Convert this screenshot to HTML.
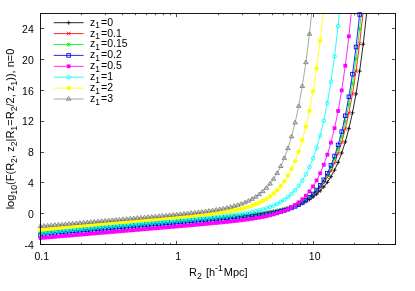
<!DOCTYPE html>
<html><head><meta charset="utf-8"><title>plot</title>
<style>
html,body{margin:0;padding:0;background:#fff;}
#w{filter:blur(0.4px);position:relative;width:415px;height:291px;overflow:hidden;background:#fff;font-family:"Liberation Sans",sans-serif;font-size:10.5px;color:#000;}
.t{position:absolute;white-space:nowrap;line-height:12px;height:12px;}
.t sub{margin-right:var(--g,1.1px);font-size:var(--s,8.4px);vertical-align:baseline;position:relative;top:var(--d,2.8px);line-height:0;}
.t sup{margin-right:var(--g,1.1px);font-size:var(--s,8.4px);vertical-align:baseline;position:relative;top:-5.3px;line-height:0;}
</style></head><body>
<div id="w">
<svg width="415" height="291" viewBox="0 0 415 291" style="position:absolute;left:0;top:0">
<defs><clipPath id="c"><rect x="40.5" y="13.5" width="355.0" height="231.0"/></clipPath></defs>
<g>
<path d="M40.50 232.80L44.09 232.49L47.67 232.19L51.26 231.89L54.84 231.58L58.43 231.28L62.02 230.97L65.60 230.67L69.19 230.37L72.77 230.06L76.36 229.76L79.94 229.46L83.53 229.15L87.12 228.85L90.70 228.55L94.29 228.24L97.87 227.94L101.46 227.63L105.05 227.33L108.63 227.03L112.22 226.72L115.80 226.42L119.39 226.12L122.97 225.81L126.56 225.51L130.15 225.21L133.73 224.90L137.32 224.60L140.90 224.29L144.49 223.99L148.08 223.69L151.66 223.38L155.25 223.08L158.83 222.77L162.42 222.47L166.01 222.16L169.59 221.86L173.18 221.55L176.76 221.25L180.35 220.94L183.93 220.63L187.52 220.33L191.11 220.02L194.69 219.71L198.28 219.40L201.86 219.09L205.45 218.78L209.04 218.46L212.62 218.15L216.21 217.83L219.79 217.50L223.38 217.18L226.96 216.85L230.55 216.51L234.14 216.17L237.72 215.82L241.31 215.46L244.89 215.09L248.48 214.71L252.07 214.31L255.65 213.89L259.24 213.44L262.82 212.97L266.41 212.47L269.99 211.93L273.58 211.34L277.17 210.69L280.75 209.98L284.34 209.18L287.92 208.29L291.51 207.27L295.10 206.12L298.68 204.79L302.27 203.27L305.85 201.50L309.44 199.43L313.03 197.02L316.61 194.19L320.20 190.85L323.78 186.91L327.37 182.25L330.95 176.72L334.54 170.15L338.13 162.32L341.71 153.01L345.30 141.90L348.88 128.63L352.47 112.79L356.06 93.85L359.64 71.20L363.23 44.11L366.81 11.68L370.40 -27.14L373.98 -73.64L377.57 -129.33L381.16 -196.04L384.74 -275.98L388.33 -371.78L391.91 -486.58" stroke="#000000" stroke-width="0.85" fill="none" clip-path="url(#c)"/>
<path d="M38.50 232.80H42.50M40.50 230.80V234.80" stroke="#000000" stroke-width="0.85" fill="none"/>
<path d="M42.09 232.49H46.09M44.09 230.49V234.49" stroke="#000000" stroke-width="0.85" fill="none"/>
<path d="M45.67 232.19H49.67M47.67 230.19V234.19" stroke="#000000" stroke-width="0.85" fill="none"/>
<path d="M49.26 231.89H53.26M51.26 229.89V233.89" stroke="#000000" stroke-width="0.85" fill="none"/>
<path d="M52.84 231.58H56.84M54.84 229.58V233.58" stroke="#000000" stroke-width="0.85" fill="none"/>
<path d="M56.43 231.28H60.43M58.43 229.28V233.28" stroke="#000000" stroke-width="0.85" fill="none"/>
<path d="M60.02 230.97H64.02M62.02 228.97V232.97" stroke="#000000" stroke-width="0.85" fill="none"/>
<path d="M63.60 230.67H67.60M65.60 228.67V232.67" stroke="#000000" stroke-width="0.85" fill="none"/>
<path d="M67.19 230.37H71.19M69.19 228.37V232.37" stroke="#000000" stroke-width="0.85" fill="none"/>
<path d="M70.77 230.06H74.77M72.77 228.06V232.06" stroke="#000000" stroke-width="0.85" fill="none"/>
<path d="M74.36 229.76H78.36M76.36 227.76V231.76" stroke="#000000" stroke-width="0.85" fill="none"/>
<path d="M77.94 229.46H81.94M79.94 227.46V231.46" stroke="#000000" stroke-width="0.85" fill="none"/>
<path d="M81.53 229.15H85.53M83.53 227.15V231.15" stroke="#000000" stroke-width="0.85" fill="none"/>
<path d="M85.12 228.85H89.12M87.12 226.85V230.85" stroke="#000000" stroke-width="0.85" fill="none"/>
<path d="M88.70 228.55H92.70M90.70 226.55V230.55" stroke="#000000" stroke-width="0.85" fill="none"/>
<path d="M92.29 228.24H96.29M94.29 226.24V230.24" stroke="#000000" stroke-width="0.85" fill="none"/>
<path d="M95.87 227.94H99.87M97.87 225.94V229.94" stroke="#000000" stroke-width="0.85" fill="none"/>
<path d="M99.46 227.63H103.46M101.46 225.63V229.63" stroke="#000000" stroke-width="0.85" fill="none"/>
<path d="M103.05 227.33H107.05M105.05 225.33V229.33" stroke="#000000" stroke-width="0.85" fill="none"/>
<path d="M106.63 227.03H110.63M108.63 225.03V229.03" stroke="#000000" stroke-width="0.85" fill="none"/>
<path d="M110.22 226.72H114.22M112.22 224.72V228.72" stroke="#000000" stroke-width="0.85" fill="none"/>
<path d="M113.80 226.42H117.80M115.80 224.42V228.42" stroke="#000000" stroke-width="0.85" fill="none"/>
<path d="M117.39 226.12H121.39M119.39 224.12V228.12" stroke="#000000" stroke-width="0.85" fill="none"/>
<path d="M120.97 225.81H124.97M122.97 223.81V227.81" stroke="#000000" stroke-width="0.85" fill="none"/>
<path d="M124.56 225.51H128.56M126.56 223.51V227.51" stroke="#000000" stroke-width="0.85" fill="none"/>
<path d="M128.15 225.21H132.15M130.15 223.21V227.21" stroke="#000000" stroke-width="0.85" fill="none"/>
<path d="M131.73 224.90H135.73M133.73 222.90V226.90" stroke="#000000" stroke-width="0.85" fill="none"/>
<path d="M135.32 224.60H139.32M137.32 222.60V226.60" stroke="#000000" stroke-width="0.85" fill="none"/>
<path d="M138.90 224.29H142.90M140.90 222.29V226.29" stroke="#000000" stroke-width="0.85" fill="none"/>
<path d="M142.49 223.99H146.49M144.49 221.99V225.99" stroke="#000000" stroke-width="0.85" fill="none"/>
<path d="M146.08 223.69H150.08M148.08 221.69V225.69" stroke="#000000" stroke-width="0.85" fill="none"/>
<path d="M149.66 223.38H153.66M151.66 221.38V225.38" stroke="#000000" stroke-width="0.85" fill="none"/>
<path d="M153.25 223.08H157.25M155.25 221.08V225.08" stroke="#000000" stroke-width="0.85" fill="none"/>
<path d="M156.83 222.77H160.83M158.83 220.77V224.77" stroke="#000000" stroke-width="0.85" fill="none"/>
<path d="M160.42 222.47H164.42M162.42 220.47V224.47" stroke="#000000" stroke-width="0.85" fill="none"/>
<path d="M164.01 222.16H168.01M166.01 220.16V224.16" stroke="#000000" stroke-width="0.85" fill="none"/>
<path d="M167.59 221.86H171.59M169.59 219.86V223.86" stroke="#000000" stroke-width="0.85" fill="none"/>
<path d="M171.18 221.55H175.18M173.18 219.55V223.55" stroke="#000000" stroke-width="0.85" fill="none"/>
<path d="M174.76 221.25H178.76M176.76 219.25V223.25" stroke="#000000" stroke-width="0.85" fill="none"/>
<path d="M178.35 220.94H182.35M180.35 218.94V222.94" stroke="#000000" stroke-width="0.85" fill="none"/>
<path d="M181.93 220.63H185.93M183.93 218.63V222.63" stroke="#000000" stroke-width="0.85" fill="none"/>
<path d="M185.52 220.33H189.52M187.52 218.33V222.33" stroke="#000000" stroke-width="0.85" fill="none"/>
<path d="M189.11 220.02H193.11M191.11 218.02V222.02" stroke="#000000" stroke-width="0.85" fill="none"/>
<path d="M192.69 219.71H196.69M194.69 217.71V221.71" stroke="#000000" stroke-width="0.85" fill="none"/>
<path d="M196.28 219.40H200.28M198.28 217.40V221.40" stroke="#000000" stroke-width="0.85" fill="none"/>
<path d="M199.86 219.09H203.86M201.86 217.09V221.09" stroke="#000000" stroke-width="0.85" fill="none"/>
<path d="M203.45 218.78H207.45M205.45 216.78V220.78" stroke="#000000" stroke-width="0.85" fill="none"/>
<path d="M207.04 218.46H211.04M209.04 216.46V220.46" stroke="#000000" stroke-width="0.85" fill="none"/>
<path d="M210.62 218.15H214.62M212.62 216.15V220.15" stroke="#000000" stroke-width="0.85" fill="none"/>
<path d="M214.21 217.83H218.21M216.21 215.83V219.83" stroke="#000000" stroke-width="0.85" fill="none"/>
<path d="M217.79 217.50H221.79M219.79 215.50V219.50" stroke="#000000" stroke-width="0.85" fill="none"/>
<path d="M221.38 217.18H225.38M223.38 215.18V219.18" stroke="#000000" stroke-width="0.85" fill="none"/>
<path d="M224.96 216.85H228.96M226.96 214.85V218.85" stroke="#000000" stroke-width="0.85" fill="none"/>
<path d="M228.55 216.51H232.55M230.55 214.51V218.51" stroke="#000000" stroke-width="0.85" fill="none"/>
<path d="M232.14 216.17H236.14M234.14 214.17V218.17" stroke="#000000" stroke-width="0.85" fill="none"/>
<path d="M235.72 215.82H239.72M237.72 213.82V217.82" stroke="#000000" stroke-width="0.85" fill="none"/>
<path d="M239.31 215.46H243.31M241.31 213.46V217.46" stroke="#000000" stroke-width="0.85" fill="none"/>
<path d="M242.89 215.09H246.89M244.89 213.09V217.09" stroke="#000000" stroke-width="0.85" fill="none"/>
<path d="M246.48 214.71H250.48M248.48 212.71V216.71" stroke="#000000" stroke-width="0.85" fill="none"/>
<path d="M250.07 214.31H254.07M252.07 212.31V216.31" stroke="#000000" stroke-width="0.85" fill="none"/>
<path d="M253.65 213.89H257.65M255.65 211.89V215.89" stroke="#000000" stroke-width="0.85" fill="none"/>
<path d="M257.24 213.44H261.24M259.24 211.44V215.44" stroke="#000000" stroke-width="0.85" fill="none"/>
<path d="M260.82 212.97H264.82M262.82 210.97V214.97" stroke="#000000" stroke-width="0.85" fill="none"/>
<path d="M264.41 212.47H268.41M266.41 210.47V214.47" stroke="#000000" stroke-width="0.85" fill="none"/>
<path d="M267.99 211.93H271.99M269.99 209.93V213.93" stroke="#000000" stroke-width="0.85" fill="none"/>
<path d="M271.58 211.34H275.58M273.58 209.34V213.34" stroke="#000000" stroke-width="0.85" fill="none"/>
<path d="M275.17 210.69H279.17M277.17 208.69V212.69" stroke="#000000" stroke-width="0.85" fill="none"/>
<path d="M278.75 209.98H282.75M280.75 207.98V211.98" stroke="#000000" stroke-width="0.85" fill="none"/>
<path d="M282.34 209.18H286.34M284.34 207.18V211.18" stroke="#000000" stroke-width="0.85" fill="none"/>
<path d="M285.92 208.29H289.92M287.92 206.29V210.29" stroke="#000000" stroke-width="0.85" fill="none"/>
<path d="M289.51 207.27H293.51M291.51 205.27V209.27" stroke="#000000" stroke-width="0.85" fill="none"/>
<path d="M293.10 206.12H297.10M295.10 204.12V208.12" stroke="#000000" stroke-width="0.85" fill="none"/>
<path d="M296.68 204.79H300.68M298.68 202.79V206.79" stroke="#000000" stroke-width="0.85" fill="none"/>
<path d="M300.27 203.27H304.27M302.27 201.27V205.27" stroke="#000000" stroke-width="0.85" fill="none"/>
<path d="M303.85 201.50H307.85M305.85 199.50V203.50" stroke="#000000" stroke-width="0.85" fill="none"/>
<path d="M307.44 199.43H311.44M309.44 197.43V201.43" stroke="#000000" stroke-width="0.85" fill="none"/>
<path d="M311.03 197.02H315.03M313.03 195.02V199.02" stroke="#000000" stroke-width="0.85" fill="none"/>
<path d="M314.61 194.19H318.61M316.61 192.19V196.19" stroke="#000000" stroke-width="0.85" fill="none"/>
<path d="M318.20 190.85H322.20M320.20 188.85V192.85" stroke="#000000" stroke-width="0.85" fill="none"/>
<path d="M321.78 186.91H325.78M323.78 184.91V188.91" stroke="#000000" stroke-width="0.85" fill="none"/>
<path d="M325.37 182.25H329.37M327.37 180.25V184.25" stroke="#000000" stroke-width="0.85" fill="none"/>
<path d="M328.95 176.72H332.95M330.95 174.72V178.72" stroke="#000000" stroke-width="0.85" fill="none"/>
<path d="M332.54 170.15H336.54M334.54 168.15V172.15" stroke="#000000" stroke-width="0.85" fill="none"/>
<path d="M336.13 162.32H340.13M338.13 160.32V164.32" stroke="#000000" stroke-width="0.85" fill="none"/>
<path d="M339.71 153.01H343.71M341.71 151.01V155.01" stroke="#000000" stroke-width="0.85" fill="none"/>
<path d="M343.30 141.90H347.30M345.30 139.90V143.90" stroke="#000000" stroke-width="0.85" fill="none"/>
<path d="M346.88 128.63H350.88M348.88 126.63V130.63" stroke="#000000" stroke-width="0.85" fill="none"/>
<path d="M350.47 112.79H354.47M352.47 110.79V114.79" stroke="#000000" stroke-width="0.85" fill="none"/>
<path d="M354.06 93.85H358.06M356.06 91.85V95.85" stroke="#000000" stroke-width="0.85" fill="none"/>
<path d="M357.64 71.20H361.64M359.64 69.20V73.20" stroke="#000000" stroke-width="0.85" fill="none"/>
<path d="M361.23 44.11H365.23M363.23 42.11V46.11" stroke="#000000" stroke-width="0.85" fill="none"/>
<path d="M40.50 233.49L44.09 233.19L47.67 232.88L51.26 232.58L54.84 232.27L58.43 231.97L62.02 231.67L65.60 231.36L69.19 231.06L72.77 230.76L76.36 230.45L79.94 230.15L83.53 229.85L87.12 229.54L90.70 229.24L94.29 228.94L97.87 228.63L101.46 228.33L105.05 228.02L108.63 227.72L112.22 227.42L115.80 227.11L119.39 226.81L122.97 226.51L126.56 226.20L130.15 225.90L133.73 225.59L137.32 225.29L140.90 224.99L144.49 224.68L148.08 224.38L151.66 224.07L155.25 223.77L158.83 223.46L162.42 223.16L166.01 222.85L169.59 222.55L173.18 222.24L176.76 221.94L180.35 221.63L183.93 221.32L187.52 221.02L191.11 220.71L194.69 220.40L198.28 220.09L201.86 219.77L205.45 219.46L209.04 219.14L212.62 218.82L216.21 218.50L219.79 218.17L223.38 217.84L226.96 217.51L230.55 217.16L234.14 216.81L237.72 216.45L241.31 216.08L244.89 215.70L248.48 215.30L252.07 214.88L255.65 214.43L259.24 213.96L262.82 213.46L266.41 212.91L269.99 212.32L273.58 211.67L277.17 210.95L280.75 210.15L284.34 209.25L287.92 208.23L291.51 207.07L295.10 205.73L298.68 204.20L302.27 202.41L305.85 200.33L309.44 197.90L313.03 195.05L316.61 191.68L320.20 187.71L323.78 183.01L327.37 177.43L330.95 170.80L334.54 162.91L338.13 153.51L341.71 142.30L345.30 128.92L348.88 112.93L352.47 93.83L356.06 70.98L359.64 43.64L363.23 10.92L366.81 -28.26L370.40 -75.17L373.98 -131.37L377.57 -198.69L381.16 -279.35L384.74 -376.01L388.33 -491.86" stroke="#ff0000" stroke-width="0.85" fill="none" clip-path="url(#c)"/>
<path d="M38.70 231.69L42.30 235.29M38.70 235.29L42.30 231.69" stroke="#ff0000" stroke-width="0.85" fill="none"/>
<path d="M42.29 231.39L45.89 234.99M42.29 234.99L45.89 231.39" stroke="#ff0000" stroke-width="0.85" fill="none"/>
<path d="M45.87 231.08L49.47 234.68M45.87 234.68L49.47 231.08" stroke="#ff0000" stroke-width="0.85" fill="none"/>
<path d="M49.46 230.78L53.06 234.38M49.46 234.38L53.06 230.78" stroke="#ff0000" stroke-width="0.85" fill="none"/>
<path d="M53.04 230.47L56.64 234.07M53.04 234.07L56.64 230.47" stroke="#ff0000" stroke-width="0.85" fill="none"/>
<path d="M56.63 230.17L60.23 233.77M56.63 233.77L60.23 230.17" stroke="#ff0000" stroke-width="0.85" fill="none"/>
<path d="M60.22 229.87L63.82 233.47M60.22 233.47L63.82 229.87" stroke="#ff0000" stroke-width="0.85" fill="none"/>
<path d="M63.80 229.56L67.40 233.16M63.80 233.16L67.40 229.56" stroke="#ff0000" stroke-width="0.85" fill="none"/>
<path d="M67.39 229.26L70.99 232.86M67.39 232.86L70.99 229.26" stroke="#ff0000" stroke-width="0.85" fill="none"/>
<path d="M70.97 228.96L74.57 232.56M70.97 232.56L74.57 228.96" stroke="#ff0000" stroke-width="0.85" fill="none"/>
<path d="M74.56 228.65L78.16 232.25M74.56 232.25L78.16 228.65" stroke="#ff0000" stroke-width="0.85" fill="none"/>
<path d="M78.14 228.35L81.74 231.95M78.14 231.95L81.74 228.35" stroke="#ff0000" stroke-width="0.85" fill="none"/>
<path d="M81.73 228.05L85.33 231.65M81.73 231.65L85.33 228.05" stroke="#ff0000" stroke-width="0.85" fill="none"/>
<path d="M85.32 227.74L88.92 231.34M85.32 231.34L88.92 227.74" stroke="#ff0000" stroke-width="0.85" fill="none"/>
<path d="M88.90 227.44L92.50 231.04M88.90 231.04L92.50 227.44" stroke="#ff0000" stroke-width="0.85" fill="none"/>
<path d="M92.49 227.14L96.09 230.74M92.49 230.74L96.09 227.14" stroke="#ff0000" stroke-width="0.85" fill="none"/>
<path d="M96.07 226.83L99.67 230.43M96.07 230.43L99.67 226.83" stroke="#ff0000" stroke-width="0.85" fill="none"/>
<path d="M99.66 226.53L103.26 230.13M99.66 230.13L103.26 226.53" stroke="#ff0000" stroke-width="0.85" fill="none"/>
<path d="M103.25 226.22L106.85 229.82M103.25 229.82L106.85 226.22" stroke="#ff0000" stroke-width="0.85" fill="none"/>
<path d="M106.83 225.92L110.43 229.52M106.83 229.52L110.43 225.92" stroke="#ff0000" stroke-width="0.85" fill="none"/>
<path d="M110.42 225.62L114.02 229.22M110.42 229.22L114.02 225.62" stroke="#ff0000" stroke-width="0.85" fill="none"/>
<path d="M114.00 225.31L117.60 228.91M114.00 228.91L117.60 225.31" stroke="#ff0000" stroke-width="0.85" fill="none"/>
<path d="M117.59 225.01L121.19 228.61M117.59 228.61L121.19 225.01" stroke="#ff0000" stroke-width="0.85" fill="none"/>
<path d="M121.17 224.71L124.77 228.31M121.17 228.31L124.77 224.71" stroke="#ff0000" stroke-width="0.85" fill="none"/>
<path d="M124.76 224.40L128.36 228.00M124.76 228.00L128.36 224.40" stroke="#ff0000" stroke-width="0.85" fill="none"/>
<path d="M128.35 224.10L131.95 227.70M128.35 227.70L131.95 224.10" stroke="#ff0000" stroke-width="0.85" fill="none"/>
<path d="M131.93 223.79L135.53 227.39M131.93 227.39L135.53 223.79" stroke="#ff0000" stroke-width="0.85" fill="none"/>
<path d="M135.52 223.49L139.12 227.09M135.52 227.09L139.12 223.49" stroke="#ff0000" stroke-width="0.85" fill="none"/>
<path d="M139.10 223.19L142.70 226.79M139.10 226.79L142.70 223.19" stroke="#ff0000" stroke-width="0.85" fill="none"/>
<path d="M142.69 222.88L146.29 226.48M142.69 226.48L146.29 222.88" stroke="#ff0000" stroke-width="0.85" fill="none"/>
<path d="M146.28 222.58L149.88 226.18M146.28 226.18L149.88 222.58" stroke="#ff0000" stroke-width="0.85" fill="none"/>
<path d="M149.86 222.27L153.46 225.87M149.86 225.87L153.46 222.27" stroke="#ff0000" stroke-width="0.85" fill="none"/>
<path d="M153.45 221.97L157.05 225.57M153.45 225.57L157.05 221.97" stroke="#ff0000" stroke-width="0.85" fill="none"/>
<path d="M157.03 221.66L160.63 225.26M157.03 225.26L160.63 221.66" stroke="#ff0000" stroke-width="0.85" fill="none"/>
<path d="M160.62 221.36L164.22 224.96M160.62 224.96L164.22 221.36" stroke="#ff0000" stroke-width="0.85" fill="none"/>
<path d="M164.21 221.05L167.81 224.65M164.21 224.65L167.81 221.05" stroke="#ff0000" stroke-width="0.85" fill="none"/>
<path d="M167.79 220.75L171.39 224.35M167.79 224.35L171.39 220.75" stroke="#ff0000" stroke-width="0.85" fill="none"/>
<path d="M171.38 220.44L174.98 224.04M171.38 224.04L174.98 220.44" stroke="#ff0000" stroke-width="0.85" fill="none"/>
<path d="M174.96 220.14L178.56 223.74M174.96 223.74L178.56 220.14" stroke="#ff0000" stroke-width="0.85" fill="none"/>
<path d="M178.55 219.83L182.15 223.43M178.55 223.43L182.15 219.83" stroke="#ff0000" stroke-width="0.85" fill="none"/>
<path d="M182.13 219.52L185.73 223.12M182.13 223.12L185.73 219.52" stroke="#ff0000" stroke-width="0.85" fill="none"/>
<path d="M185.72 219.22L189.32 222.82M185.72 222.82L189.32 219.22" stroke="#ff0000" stroke-width="0.85" fill="none"/>
<path d="M189.31 218.91L192.91 222.51M189.31 222.51L192.91 218.91" stroke="#ff0000" stroke-width="0.85" fill="none"/>
<path d="M192.89 218.60L196.49 222.20M192.89 222.20L196.49 218.60" stroke="#ff0000" stroke-width="0.85" fill="none"/>
<path d="M196.48 218.29L200.08 221.89M196.48 221.89L200.08 218.29" stroke="#ff0000" stroke-width="0.85" fill="none"/>
<path d="M200.06 217.97L203.66 221.57M200.06 221.57L203.66 217.97" stroke="#ff0000" stroke-width="0.85" fill="none"/>
<path d="M203.65 217.66L207.25 221.26M203.65 221.26L207.25 217.66" stroke="#ff0000" stroke-width="0.85" fill="none"/>
<path d="M207.24 217.34L210.84 220.94M207.24 220.94L210.84 217.34" stroke="#ff0000" stroke-width="0.85" fill="none"/>
<path d="M210.82 217.02L214.42 220.62M210.82 220.62L214.42 217.02" stroke="#ff0000" stroke-width="0.85" fill="none"/>
<path d="M214.41 216.70L218.01 220.30M214.41 220.30L218.01 216.70" stroke="#ff0000" stroke-width="0.85" fill="none"/>
<path d="M217.99 216.37L221.59 219.97M217.99 219.97L221.59 216.37" stroke="#ff0000" stroke-width="0.85" fill="none"/>
<path d="M221.58 216.04L225.18 219.64M221.58 219.64L225.18 216.04" stroke="#ff0000" stroke-width="0.85" fill="none"/>
<path d="M225.16 215.71L228.76 219.31M225.16 219.31L228.76 215.71" stroke="#ff0000" stroke-width="0.85" fill="none"/>
<path d="M228.75 215.36L232.35 218.96M228.75 218.96L232.35 215.36" stroke="#ff0000" stroke-width="0.85" fill="none"/>
<path d="M232.34 215.01L235.94 218.61M232.34 218.61L235.94 215.01" stroke="#ff0000" stroke-width="0.85" fill="none"/>
<path d="M235.92 214.65L239.52 218.25M235.92 218.25L239.52 214.65" stroke="#ff0000" stroke-width="0.85" fill="none"/>
<path d="M239.51 214.28L243.11 217.88M239.51 217.88L243.11 214.28" stroke="#ff0000" stroke-width="0.85" fill="none"/>
<path d="M243.09 213.90L246.69 217.50M243.09 217.50L246.69 213.90" stroke="#ff0000" stroke-width="0.85" fill="none"/>
<path d="M246.68 213.50L250.28 217.10M246.68 217.10L250.28 213.50" stroke="#ff0000" stroke-width="0.85" fill="none"/>
<path d="M250.27 213.08L253.87 216.68M250.27 216.68L253.87 213.08" stroke="#ff0000" stroke-width="0.85" fill="none"/>
<path d="M253.85 212.63L257.45 216.23M253.85 216.23L257.45 212.63" stroke="#ff0000" stroke-width="0.85" fill="none"/>
<path d="M257.44 212.16L261.04 215.76M257.44 215.76L261.04 212.16" stroke="#ff0000" stroke-width="0.85" fill="none"/>
<path d="M261.02 211.66L264.62 215.26M261.02 215.26L264.62 211.66" stroke="#ff0000" stroke-width="0.85" fill="none"/>
<path d="M264.61 211.11L268.21 214.71M264.61 214.71L268.21 211.11" stroke="#ff0000" stroke-width="0.85" fill="none"/>
<path d="M268.19 210.52L271.79 214.12M268.19 214.12L271.79 210.52" stroke="#ff0000" stroke-width="0.85" fill="none"/>
<path d="M271.78 209.87L275.38 213.47M271.78 213.47L275.38 209.87" stroke="#ff0000" stroke-width="0.85" fill="none"/>
<path d="M275.37 209.15L278.97 212.75M275.37 212.75L278.97 209.15" stroke="#ff0000" stroke-width="0.85" fill="none"/>
<path d="M278.95 208.35L282.55 211.95M278.95 211.95L282.55 208.35" stroke="#ff0000" stroke-width="0.85" fill="none"/>
<path d="M282.54 207.45L286.14 211.05M282.54 211.05L286.14 207.45" stroke="#ff0000" stroke-width="0.85" fill="none"/>
<path d="M286.12 206.43L289.72 210.03M286.12 210.03L289.72 206.43" stroke="#ff0000" stroke-width="0.85" fill="none"/>
<path d="M289.71 205.27L293.31 208.87M289.71 208.87L293.31 205.27" stroke="#ff0000" stroke-width="0.85" fill="none"/>
<path d="M293.30 203.93L296.90 207.53M293.30 207.53L296.90 203.93" stroke="#ff0000" stroke-width="0.85" fill="none"/>
<path d="M296.88 202.40L300.48 206.00M296.88 206.00L300.48 202.40" stroke="#ff0000" stroke-width="0.85" fill="none"/>
<path d="M300.47 200.61L304.07 204.21M300.47 204.21L304.07 200.61" stroke="#ff0000" stroke-width="0.85" fill="none"/>
<path d="M304.05 198.53L307.65 202.13M304.05 202.13L307.65 198.53" stroke="#ff0000" stroke-width="0.85" fill="none"/>
<path d="M307.64 196.10L311.24 199.70M307.64 199.70L311.24 196.10" stroke="#ff0000" stroke-width="0.85" fill="none"/>
<path d="M311.23 193.25L314.83 196.85M311.23 196.85L314.83 193.25" stroke="#ff0000" stroke-width="0.85" fill="none"/>
<path d="M314.81 189.88L318.41 193.48M314.81 193.48L318.41 189.88" stroke="#ff0000" stroke-width="0.85" fill="none"/>
<path d="M318.40 185.91L322.00 189.51M318.40 189.51L322.00 185.91" stroke="#ff0000" stroke-width="0.85" fill="none"/>
<path d="M321.98 181.21L325.58 184.81M321.98 184.81L325.58 181.21" stroke="#ff0000" stroke-width="0.85" fill="none"/>
<path d="M325.57 175.63L329.17 179.23M325.57 179.23L329.17 175.63" stroke="#ff0000" stroke-width="0.85" fill="none"/>
<path d="M329.15 169.00L332.75 172.60M329.15 172.60L332.75 169.00" stroke="#ff0000" stroke-width="0.85" fill="none"/>
<path d="M332.74 161.11L336.34 164.71M332.74 164.71L336.34 161.11" stroke="#ff0000" stroke-width="0.85" fill="none"/>
<path d="M336.33 151.71L339.93 155.31M336.33 155.31L339.93 151.71" stroke="#ff0000" stroke-width="0.85" fill="none"/>
<path d="M339.91 140.50L343.51 144.10M339.91 144.10L343.51 140.50" stroke="#ff0000" stroke-width="0.85" fill="none"/>
<path d="M343.50 127.12L347.10 130.72M343.50 130.72L347.10 127.12" stroke="#ff0000" stroke-width="0.85" fill="none"/>
<path d="M347.08 111.13L350.68 114.73M347.08 114.73L350.68 111.13" stroke="#ff0000" stroke-width="0.85" fill="none"/>
<path d="M350.67 92.03L354.27 95.63M350.67 95.63L354.27 92.03" stroke="#ff0000" stroke-width="0.85" fill="none"/>
<path d="M354.26 69.18L357.86 72.78M354.26 72.78L357.86 69.18" stroke="#ff0000" stroke-width="0.85" fill="none"/>
<path d="M357.84 41.84L361.44 45.44M357.84 45.44L361.44 41.84" stroke="#ff0000" stroke-width="0.85" fill="none"/>
<path d="M40.50 233.80L44.09 233.49L47.67 233.19L51.26 232.89L54.84 232.58L58.43 232.28L62.02 231.98L65.60 231.67L69.19 231.37L72.77 231.06L76.36 230.76L79.94 230.46L83.53 230.15L87.12 229.85L90.70 229.55L94.29 229.24L97.87 228.94L101.46 228.64L105.05 228.33L108.63 228.03L112.22 227.72L115.80 227.42L119.39 227.12L122.97 226.81L126.56 226.51L130.15 226.21L133.73 225.90L137.32 225.60L140.90 225.29L144.49 224.99L148.08 224.69L151.66 224.38L155.25 224.08L158.83 223.77L162.42 223.47L166.01 223.16L169.59 222.86L173.18 222.55L176.76 222.24L180.35 221.94L183.93 221.63L187.52 221.32L191.11 221.01L194.69 220.70L198.28 220.39L201.86 220.08L205.45 219.76L209.04 219.44L212.62 219.12L216.21 218.80L219.79 218.47L223.38 218.14L226.96 217.80L230.55 217.45L234.14 217.09L237.72 216.73L241.31 216.35L244.89 215.96L248.48 215.55L252.07 215.12L255.65 214.66L259.24 214.18L262.82 213.65L266.41 213.09L269.99 212.47L273.58 211.78L277.17 211.03L280.75 210.18L284.34 209.22L287.92 208.14L291.51 206.89L295.10 205.47L298.68 203.81L302.27 201.89L305.85 199.65L309.44 197.02L313.03 193.93L316.61 190.28L320.20 185.96L323.78 180.85L327.37 174.78L330.95 167.56L334.54 158.97L338.13 148.72L341.71 136.50L345.30 121.90L348.88 104.46L352.47 83.60L356.06 58.66L359.64 28.81L363.23 -6.93L366.81 -49.72L370.40 -100.97L373.98 -162.36L377.57 -235.91L381.16 -324.04L384.74 -429.66" stroke="#00ff00" stroke-width="0.85" fill="none" clip-path="url(#c)"/>
<path d="M38.50 233.80H42.50M40.50 231.80V235.80M38.70 232.00L42.30 235.60M38.70 235.60L42.30 232.00" stroke="#00ff00" stroke-width="0.85" fill="none"/>
<path d="M42.09 233.49H46.09M44.09 231.49V235.49M42.29 231.69L45.89 235.29M42.29 235.29L45.89 231.69" stroke="#00ff00" stroke-width="0.85" fill="none"/>
<path d="M45.67 233.19H49.67M47.67 231.19V235.19M45.87 231.39L49.47 234.99M45.87 234.99L49.47 231.39" stroke="#00ff00" stroke-width="0.85" fill="none"/>
<path d="M49.26 232.89H53.26M51.26 230.89V234.89M49.46 231.09L53.06 234.69M49.46 234.69L53.06 231.09" stroke="#00ff00" stroke-width="0.85" fill="none"/>
<path d="M52.84 232.58H56.84M54.84 230.58V234.58M53.04 230.78L56.64 234.38M53.04 234.38L56.64 230.78" stroke="#00ff00" stroke-width="0.85" fill="none"/>
<path d="M56.43 232.28H60.43M58.43 230.28V234.28M56.63 230.48L60.23 234.08M56.63 234.08L60.23 230.48" stroke="#00ff00" stroke-width="0.85" fill="none"/>
<path d="M60.02 231.98H64.02M62.02 229.98V233.98M60.22 230.18L63.82 233.78M60.22 233.78L63.82 230.18" stroke="#00ff00" stroke-width="0.85" fill="none"/>
<path d="M63.60 231.67H67.60M65.60 229.67V233.67M63.80 229.87L67.40 233.47M63.80 233.47L67.40 229.87" stroke="#00ff00" stroke-width="0.85" fill="none"/>
<path d="M67.19 231.37H71.19M69.19 229.37V233.37M67.39 229.57L70.99 233.17M67.39 233.17L70.99 229.57" stroke="#00ff00" stroke-width="0.85" fill="none"/>
<path d="M70.77 231.06H74.77M72.77 229.06V233.06M70.97 229.26L74.57 232.86M70.97 232.86L74.57 229.26" stroke="#00ff00" stroke-width="0.85" fill="none"/>
<path d="M74.36 230.76H78.36M76.36 228.76V232.76M74.56 228.96L78.16 232.56M74.56 232.56L78.16 228.96" stroke="#00ff00" stroke-width="0.85" fill="none"/>
<path d="M77.94 230.46H81.94M79.94 228.46V232.46M78.14 228.66L81.74 232.26M78.14 232.26L81.74 228.66" stroke="#00ff00" stroke-width="0.85" fill="none"/>
<path d="M81.53 230.15H85.53M83.53 228.15V232.15M81.73 228.35L85.33 231.95M81.73 231.95L85.33 228.35" stroke="#00ff00" stroke-width="0.85" fill="none"/>
<path d="M85.12 229.85H89.12M87.12 227.85V231.85M85.32 228.05L88.92 231.65M85.32 231.65L88.92 228.05" stroke="#00ff00" stroke-width="0.85" fill="none"/>
<path d="M88.70 229.55H92.70M90.70 227.55V231.55M88.90 227.75L92.50 231.35M88.90 231.35L92.50 227.75" stroke="#00ff00" stroke-width="0.85" fill="none"/>
<path d="M92.29 229.24H96.29M94.29 227.24V231.24M92.49 227.44L96.09 231.04M92.49 231.04L96.09 227.44" stroke="#00ff00" stroke-width="0.85" fill="none"/>
<path d="M95.87 228.94H99.87M97.87 226.94V230.94M96.07 227.14L99.67 230.74M96.07 230.74L99.67 227.14" stroke="#00ff00" stroke-width="0.85" fill="none"/>
<path d="M99.46 228.64H103.46M101.46 226.64V230.64M99.66 226.84L103.26 230.44M99.66 230.44L103.26 226.84" stroke="#00ff00" stroke-width="0.85" fill="none"/>
<path d="M103.05 228.33H107.05M105.05 226.33V230.33M103.25 226.53L106.85 230.13M103.25 230.13L106.85 226.53" stroke="#00ff00" stroke-width="0.85" fill="none"/>
<path d="M106.63 228.03H110.63M108.63 226.03V230.03M106.83 226.23L110.43 229.83M106.83 229.83L110.43 226.23" stroke="#00ff00" stroke-width="0.85" fill="none"/>
<path d="M110.22 227.72H114.22M112.22 225.72V229.72M110.42 225.92L114.02 229.52M110.42 229.52L114.02 225.92" stroke="#00ff00" stroke-width="0.85" fill="none"/>
<path d="M113.80 227.42H117.80M115.80 225.42V229.42M114.00 225.62L117.60 229.22M114.00 229.22L117.60 225.62" stroke="#00ff00" stroke-width="0.85" fill="none"/>
<path d="M117.39 227.12H121.39M119.39 225.12V229.12M117.59 225.32L121.19 228.92M117.59 228.92L121.19 225.32" stroke="#00ff00" stroke-width="0.85" fill="none"/>
<path d="M120.97 226.81H124.97M122.97 224.81V228.81M121.17 225.01L124.77 228.61M121.17 228.61L124.77 225.01" stroke="#00ff00" stroke-width="0.85" fill="none"/>
<path d="M124.56 226.51H128.56M126.56 224.51V228.51M124.76 224.71L128.36 228.31M124.76 228.31L128.36 224.71" stroke="#00ff00" stroke-width="0.85" fill="none"/>
<path d="M128.15 226.21H132.15M130.15 224.21V228.21M128.35 224.41L131.95 228.01M128.35 228.01L131.95 224.41" stroke="#00ff00" stroke-width="0.85" fill="none"/>
<path d="M131.73 225.90H135.73M133.73 223.90V227.90M131.93 224.10L135.53 227.70M131.93 227.70L135.53 224.10" stroke="#00ff00" stroke-width="0.85" fill="none"/>
<path d="M135.32 225.60H139.32M137.32 223.60V227.60M135.52 223.80L139.12 227.40M135.52 227.40L139.12 223.80" stroke="#00ff00" stroke-width="0.85" fill="none"/>
<path d="M138.90 225.29H142.90M140.90 223.29V227.29M139.10 223.49L142.70 227.09M139.10 227.09L142.70 223.49" stroke="#00ff00" stroke-width="0.85" fill="none"/>
<path d="M142.49 224.99H146.49M144.49 222.99V226.99M142.69 223.19L146.29 226.79M142.69 226.79L146.29 223.19" stroke="#00ff00" stroke-width="0.85" fill="none"/>
<path d="M146.08 224.69H150.08M148.08 222.69V226.69M146.28 222.89L149.88 226.49M146.28 226.49L149.88 222.89" stroke="#00ff00" stroke-width="0.85" fill="none"/>
<path d="M149.66 224.38H153.66M151.66 222.38V226.38M149.86 222.58L153.46 226.18M149.86 226.18L153.46 222.58" stroke="#00ff00" stroke-width="0.85" fill="none"/>
<path d="M153.25 224.08H157.25M155.25 222.08V226.08M153.45 222.28L157.05 225.88M153.45 225.88L157.05 222.28" stroke="#00ff00" stroke-width="0.85" fill="none"/>
<path d="M156.83 223.77H160.83M158.83 221.77V225.77M157.03 221.97L160.63 225.57M157.03 225.57L160.63 221.97" stroke="#00ff00" stroke-width="0.85" fill="none"/>
<path d="M160.42 223.47H164.42M162.42 221.47V225.47M160.62 221.67L164.22 225.27M160.62 225.27L164.22 221.67" stroke="#00ff00" stroke-width="0.85" fill="none"/>
<path d="M164.01 223.16H168.01M166.01 221.16V225.16M164.21 221.36L167.81 224.96M164.21 224.96L167.81 221.36" stroke="#00ff00" stroke-width="0.85" fill="none"/>
<path d="M167.59 222.86H171.59M169.59 220.86V224.86M167.79 221.06L171.39 224.66M167.79 224.66L171.39 221.06" stroke="#00ff00" stroke-width="0.85" fill="none"/>
<path d="M171.18 222.55H175.18M173.18 220.55V224.55M171.38 220.75L174.98 224.35M171.38 224.35L174.98 220.75" stroke="#00ff00" stroke-width="0.85" fill="none"/>
<path d="M174.76 222.24H178.76M176.76 220.24V224.24M174.96 220.44L178.56 224.04M174.96 224.04L178.56 220.44" stroke="#00ff00" stroke-width="0.85" fill="none"/>
<path d="M178.35 221.94H182.35M180.35 219.94V223.94M178.55 220.14L182.15 223.74M178.55 223.74L182.15 220.14" stroke="#00ff00" stroke-width="0.85" fill="none"/>
<path d="M181.93 221.63H185.93M183.93 219.63V223.63M182.13 219.83L185.73 223.43M182.13 223.43L185.73 219.83" stroke="#00ff00" stroke-width="0.85" fill="none"/>
<path d="M185.52 221.32H189.52M187.52 219.32V223.32M185.72 219.52L189.32 223.12M185.72 223.12L189.32 219.52" stroke="#00ff00" stroke-width="0.85" fill="none"/>
<path d="M189.11 221.01H193.11M191.11 219.01V223.01M189.31 219.21L192.91 222.81M189.31 222.81L192.91 219.21" stroke="#00ff00" stroke-width="0.85" fill="none"/>
<path d="M192.69 220.70H196.69M194.69 218.70V222.70M192.89 218.90L196.49 222.50M192.89 222.50L196.49 218.90" stroke="#00ff00" stroke-width="0.85" fill="none"/>
<path d="M196.28 220.39H200.28M198.28 218.39V222.39M196.48 218.59L200.08 222.19M196.48 222.19L200.08 218.59" stroke="#00ff00" stroke-width="0.85" fill="none"/>
<path d="M199.86 220.08H203.86M201.86 218.08V222.08M200.06 218.28L203.66 221.88M200.06 221.88L203.66 218.28" stroke="#00ff00" stroke-width="0.85" fill="none"/>
<path d="M203.45 219.76H207.45M205.45 217.76V221.76M203.65 217.96L207.25 221.56M203.65 221.56L207.25 217.96" stroke="#00ff00" stroke-width="0.85" fill="none"/>
<path d="M207.04 219.44H211.04M209.04 217.44V221.44M207.24 217.64L210.84 221.24M207.24 221.24L210.84 217.64" stroke="#00ff00" stroke-width="0.85" fill="none"/>
<path d="M210.62 219.12H214.62M212.62 217.12V221.12M210.82 217.32L214.42 220.92M210.82 220.92L214.42 217.32" stroke="#00ff00" stroke-width="0.85" fill="none"/>
<path d="M214.21 218.80H218.21M216.21 216.80V220.80M214.41 217.00L218.01 220.60M214.41 220.60L218.01 217.00" stroke="#00ff00" stroke-width="0.85" fill="none"/>
<path d="M217.79 218.47H221.79M219.79 216.47V220.47M217.99 216.67L221.59 220.27M217.99 220.27L221.59 216.67" stroke="#00ff00" stroke-width="0.85" fill="none"/>
<path d="M221.38 218.14H225.38M223.38 216.14V220.14M221.58 216.34L225.18 219.94M221.58 219.94L225.18 216.34" stroke="#00ff00" stroke-width="0.85" fill="none"/>
<path d="M224.96 217.80H228.96M226.96 215.80V219.80M225.16 216.00L228.76 219.60M225.16 219.60L228.76 216.00" stroke="#00ff00" stroke-width="0.85" fill="none"/>
<path d="M228.55 217.45H232.55M230.55 215.45V219.45M228.75 215.65L232.35 219.25M228.75 219.25L232.35 215.65" stroke="#00ff00" stroke-width="0.85" fill="none"/>
<path d="M232.14 217.09H236.14M234.14 215.09V219.09M232.34 215.29L235.94 218.89M232.34 218.89L235.94 215.29" stroke="#00ff00" stroke-width="0.85" fill="none"/>
<path d="M235.72 216.73H239.72M237.72 214.73V218.73M235.92 214.93L239.52 218.53M235.92 218.53L239.52 214.93" stroke="#00ff00" stroke-width="0.85" fill="none"/>
<path d="M239.31 216.35H243.31M241.31 214.35V218.35M239.51 214.55L243.11 218.15M239.51 218.15L243.11 214.55" stroke="#00ff00" stroke-width="0.85" fill="none"/>
<path d="M242.89 215.96H246.89M244.89 213.96V217.96M243.09 214.16L246.69 217.76M243.09 217.76L246.69 214.16" stroke="#00ff00" stroke-width="0.85" fill="none"/>
<path d="M246.48 215.55H250.48M248.48 213.55V217.55M246.68 213.75L250.28 217.35M246.68 217.35L250.28 213.75" stroke="#00ff00" stroke-width="0.85" fill="none"/>
<path d="M250.07 215.12H254.07M252.07 213.12V217.12M250.27 213.32L253.87 216.92M250.27 216.92L253.87 213.32" stroke="#00ff00" stroke-width="0.85" fill="none"/>
<path d="M253.65 214.66H257.65M255.65 212.66V216.66M253.85 212.86L257.45 216.46M253.85 216.46L257.45 212.86" stroke="#00ff00" stroke-width="0.85" fill="none"/>
<path d="M257.24 214.18H261.24M259.24 212.18V216.18M257.44 212.38L261.04 215.98M257.44 215.98L261.04 212.38" stroke="#00ff00" stroke-width="0.85" fill="none"/>
<path d="M260.82 213.65H264.82M262.82 211.65V215.65M261.02 211.85L264.62 215.45M261.02 215.45L264.62 211.85" stroke="#00ff00" stroke-width="0.85" fill="none"/>
<path d="M264.41 213.09H268.41M266.41 211.09V215.09M264.61 211.29L268.21 214.89M264.61 214.89L268.21 211.29" stroke="#00ff00" stroke-width="0.85" fill="none"/>
<path d="M267.99 212.47H271.99M269.99 210.47V214.47M268.19 210.67L271.79 214.27M268.19 214.27L271.79 210.67" stroke="#00ff00" stroke-width="0.85" fill="none"/>
<path d="M271.58 211.78H275.58M273.58 209.78V213.78M271.78 209.98L275.38 213.58M271.78 213.58L275.38 209.98" stroke="#00ff00" stroke-width="0.85" fill="none"/>
<path d="M275.17 211.03H279.17M277.17 209.03V213.03M275.37 209.23L278.97 212.83M275.37 212.83L278.97 209.23" stroke="#00ff00" stroke-width="0.85" fill="none"/>
<path d="M278.75 210.18H282.75M280.75 208.18V212.18M278.95 208.38L282.55 211.98M278.95 211.98L282.55 208.38" stroke="#00ff00" stroke-width="0.85" fill="none"/>
<path d="M282.34 209.22H286.34M284.34 207.22V211.22M282.54 207.42L286.14 211.02M282.54 211.02L286.14 207.42" stroke="#00ff00" stroke-width="0.85" fill="none"/>
<path d="M285.92 208.14H289.92M287.92 206.14V210.14M286.12 206.34L289.72 209.94M286.12 209.94L289.72 206.34" stroke="#00ff00" stroke-width="0.85" fill="none"/>
<path d="M289.51 206.89H293.51M291.51 204.89V208.89M289.71 205.09L293.31 208.69M289.71 208.69L293.31 205.09" stroke="#00ff00" stroke-width="0.85" fill="none"/>
<path d="M293.10 205.47H297.10M295.10 203.47V207.47M293.30 203.67L296.90 207.27M293.30 207.27L296.90 203.67" stroke="#00ff00" stroke-width="0.85" fill="none"/>
<path d="M296.68 203.81H300.68M298.68 201.81V205.81M296.88 202.01L300.48 205.61M296.88 205.61L300.48 202.01" stroke="#00ff00" stroke-width="0.85" fill="none"/>
<path d="M300.27 201.89H304.27M302.27 199.89V203.89M300.47 200.09L304.07 203.69M300.47 203.69L304.07 200.09" stroke="#00ff00" stroke-width="0.85" fill="none"/>
<path d="M303.85 199.65H307.85M305.85 197.65V201.65M304.05 197.85L307.65 201.45M304.05 201.45L307.65 197.85" stroke="#00ff00" stroke-width="0.85" fill="none"/>
<path d="M307.44 197.02H311.44M309.44 195.02V199.02M307.64 195.22L311.24 198.82M307.64 198.82L311.24 195.22" stroke="#00ff00" stroke-width="0.85" fill="none"/>
<path d="M311.03 193.93H315.03M313.03 191.93V195.93M311.23 192.13L314.83 195.73M311.23 195.73L314.83 192.13" stroke="#00ff00" stroke-width="0.85" fill="none"/>
<path d="M314.61 190.28H318.61M316.61 188.28V192.28M314.81 188.48L318.41 192.08M314.81 192.08L318.41 188.48" stroke="#00ff00" stroke-width="0.85" fill="none"/>
<path d="M318.20 185.96H322.20M320.20 183.96V187.96M318.40 184.16L322.00 187.76M318.40 187.76L322.00 184.16" stroke="#00ff00" stroke-width="0.85" fill="none"/>
<path d="M321.78 180.85H325.78M323.78 178.85V182.85M321.98 179.05L325.58 182.65M321.98 182.65L325.58 179.05" stroke="#00ff00" stroke-width="0.85" fill="none"/>
<path d="M325.37 174.78H329.37M327.37 172.78V176.78M325.57 172.98L329.17 176.58M325.57 176.58L329.17 172.98" stroke="#00ff00" stroke-width="0.85" fill="none"/>
<path d="M328.95 167.56H332.95M330.95 165.56V169.56M329.15 165.76L332.75 169.36M329.15 169.36L332.75 165.76" stroke="#00ff00" stroke-width="0.85" fill="none"/>
<path d="M332.54 158.97H336.54M334.54 156.97V160.97M332.74 157.17L336.34 160.77M332.74 160.77L336.34 157.17" stroke="#00ff00" stroke-width="0.85" fill="none"/>
<path d="M336.13 148.72H340.13M338.13 146.72V150.72M336.33 146.92L339.93 150.52M336.33 150.52L339.93 146.92" stroke="#00ff00" stroke-width="0.85" fill="none"/>
<path d="M339.71 136.50H343.71M341.71 134.50V138.50M339.91 134.70L343.51 138.30M339.91 138.30L343.51 134.70" stroke="#00ff00" stroke-width="0.85" fill="none"/>
<path d="M343.30 121.90H347.30M345.30 119.90V123.90M343.50 120.10L347.10 123.70M343.50 123.70L347.10 120.10" stroke="#00ff00" stroke-width="0.85" fill="none"/>
<path d="M346.88 104.46H350.88M348.88 102.46V106.46M347.08 102.66L350.68 106.26M347.08 106.26L350.68 102.66" stroke="#00ff00" stroke-width="0.85" fill="none"/>
<path d="M350.47 83.60H354.47M352.47 81.60V85.60M350.67 81.80L354.27 85.40M350.67 85.40L354.27 81.80" stroke="#00ff00" stroke-width="0.85" fill="none"/>
<path d="M354.06 58.66H358.06M356.06 56.66V60.66M354.26 56.86L357.86 60.46M354.26 60.46L357.86 56.86" stroke="#00ff00" stroke-width="0.85" fill="none"/>
<path d="M357.64 28.81H361.64M359.64 26.81V30.81M357.84 27.01L361.44 30.61M357.84 30.61L361.44 27.01" stroke="#00ff00" stroke-width="0.85" fill="none"/>
<path d="M40.50 235.34L44.09 235.03L47.67 234.73L51.26 234.43L54.84 234.12L58.43 233.82L62.02 233.52L65.60 233.21L69.19 232.91L72.77 232.60L76.36 232.30L79.94 232.00L83.53 231.69L87.12 231.39L90.70 231.09L94.29 230.78L97.87 230.48L101.46 230.18L105.05 229.87L108.63 229.57L112.22 229.26L115.80 228.96L119.39 228.66L122.97 228.35L126.56 228.05L130.15 227.75L133.73 227.44L137.32 227.14L140.90 226.83L144.49 226.53L148.08 226.23L151.66 225.92L155.25 225.62L158.83 225.31L162.42 225.01L166.01 224.70L169.59 224.40L173.18 224.09L176.76 223.78L180.35 223.48L183.93 223.17L187.52 222.86L191.11 222.55L194.69 222.24L198.28 221.92L201.86 221.61L205.45 221.29L209.04 220.97L212.62 220.65L216.21 220.33L219.79 220.00L223.38 219.66L226.96 219.32L230.55 218.97L234.14 218.61L237.72 218.24L241.31 217.85L244.89 217.45L248.48 217.03L252.07 216.59L255.65 216.12L259.24 215.62L262.82 215.08L266.41 214.49L269.99 213.84L273.58 213.12L277.17 212.32L280.75 211.43L284.34 210.41L287.92 209.26L291.51 207.93L295.10 206.40L298.68 204.63L302.27 202.57L305.85 200.15L309.44 197.31L313.03 193.97L316.61 190.03L320.20 185.36L323.78 179.82L327.37 173.24L330.95 165.40L334.54 156.07L338.13 144.94L341.71 131.66L345.30 115.79L348.88 96.83L352.47 74.15L356.06 47.01L359.64 14.53L363.23 -24.35L366.81 -70.91L370.40 -126.69L373.98 -193.51L377.57 -273.57L381.16 -369.50L384.74 -484.48" stroke="#0000ff" stroke-width="0.85" fill="none" clip-path="url(#c)"/>
<rect x="38.70" y="233.54" width="3.6" height="3.6" stroke="#0000ff" stroke-width="0.85" fill="none"/>
<rect x="42.29" y="233.23" width="3.6" height="3.6" stroke="#0000ff" stroke-width="0.85" fill="none"/>
<rect x="45.87" y="232.93" width="3.6" height="3.6" stroke="#0000ff" stroke-width="0.85" fill="none"/>
<rect x="49.46" y="232.63" width="3.6" height="3.6" stroke="#0000ff" stroke-width="0.85" fill="none"/>
<rect x="53.04" y="232.32" width="3.6" height="3.6" stroke="#0000ff" stroke-width="0.85" fill="none"/>
<rect x="56.63" y="232.02" width="3.6" height="3.6" stroke="#0000ff" stroke-width="0.85" fill="none"/>
<rect x="60.22" y="231.72" width="3.6" height="3.6" stroke="#0000ff" stroke-width="0.85" fill="none"/>
<rect x="63.80" y="231.41" width="3.6" height="3.6" stroke="#0000ff" stroke-width="0.85" fill="none"/>
<rect x="67.39" y="231.11" width="3.6" height="3.6" stroke="#0000ff" stroke-width="0.85" fill="none"/>
<rect x="70.97" y="230.80" width="3.6" height="3.6" stroke="#0000ff" stroke-width="0.85" fill="none"/>
<rect x="74.56" y="230.50" width="3.6" height="3.6" stroke="#0000ff" stroke-width="0.85" fill="none"/>
<rect x="78.14" y="230.20" width="3.6" height="3.6" stroke="#0000ff" stroke-width="0.85" fill="none"/>
<rect x="81.73" y="229.89" width="3.6" height="3.6" stroke="#0000ff" stroke-width="0.85" fill="none"/>
<rect x="85.32" y="229.59" width="3.6" height="3.6" stroke="#0000ff" stroke-width="0.85" fill="none"/>
<rect x="88.90" y="229.29" width="3.6" height="3.6" stroke="#0000ff" stroke-width="0.85" fill="none"/>
<rect x="92.49" y="228.98" width="3.6" height="3.6" stroke="#0000ff" stroke-width="0.85" fill="none"/>
<rect x="96.07" y="228.68" width="3.6" height="3.6" stroke="#0000ff" stroke-width="0.85" fill="none"/>
<rect x="99.66" y="228.38" width="3.6" height="3.6" stroke="#0000ff" stroke-width="0.85" fill="none"/>
<rect x="103.25" y="228.07" width="3.6" height="3.6" stroke="#0000ff" stroke-width="0.85" fill="none"/>
<rect x="106.83" y="227.77" width="3.6" height="3.6" stroke="#0000ff" stroke-width="0.85" fill="none"/>
<rect x="110.42" y="227.46" width="3.6" height="3.6" stroke="#0000ff" stroke-width="0.85" fill="none"/>
<rect x="114.00" y="227.16" width="3.6" height="3.6" stroke="#0000ff" stroke-width="0.85" fill="none"/>
<rect x="117.59" y="226.86" width="3.6" height="3.6" stroke="#0000ff" stroke-width="0.85" fill="none"/>
<rect x="121.17" y="226.55" width="3.6" height="3.6" stroke="#0000ff" stroke-width="0.85" fill="none"/>
<rect x="124.76" y="226.25" width="3.6" height="3.6" stroke="#0000ff" stroke-width="0.85" fill="none"/>
<rect x="128.35" y="225.95" width="3.6" height="3.6" stroke="#0000ff" stroke-width="0.85" fill="none"/>
<rect x="131.93" y="225.64" width="3.6" height="3.6" stroke="#0000ff" stroke-width="0.85" fill="none"/>
<rect x="135.52" y="225.34" width="3.6" height="3.6" stroke="#0000ff" stroke-width="0.85" fill="none"/>
<rect x="139.10" y="225.03" width="3.6" height="3.6" stroke="#0000ff" stroke-width="0.85" fill="none"/>
<rect x="142.69" y="224.73" width="3.6" height="3.6" stroke="#0000ff" stroke-width="0.85" fill="none"/>
<rect x="146.28" y="224.43" width="3.6" height="3.6" stroke="#0000ff" stroke-width="0.85" fill="none"/>
<rect x="149.86" y="224.12" width="3.6" height="3.6" stroke="#0000ff" stroke-width="0.85" fill="none"/>
<rect x="153.45" y="223.82" width="3.6" height="3.6" stroke="#0000ff" stroke-width="0.85" fill="none"/>
<rect x="157.03" y="223.51" width="3.6" height="3.6" stroke="#0000ff" stroke-width="0.85" fill="none"/>
<rect x="160.62" y="223.21" width="3.6" height="3.6" stroke="#0000ff" stroke-width="0.85" fill="none"/>
<rect x="164.21" y="222.90" width="3.6" height="3.6" stroke="#0000ff" stroke-width="0.85" fill="none"/>
<rect x="167.79" y="222.60" width="3.6" height="3.6" stroke="#0000ff" stroke-width="0.85" fill="none"/>
<rect x="171.38" y="222.29" width="3.6" height="3.6" stroke="#0000ff" stroke-width="0.85" fill="none"/>
<rect x="174.96" y="221.98" width="3.6" height="3.6" stroke="#0000ff" stroke-width="0.85" fill="none"/>
<rect x="178.55" y="221.68" width="3.6" height="3.6" stroke="#0000ff" stroke-width="0.85" fill="none"/>
<rect x="182.13" y="221.37" width="3.6" height="3.6" stroke="#0000ff" stroke-width="0.85" fill="none"/>
<rect x="185.72" y="221.06" width="3.6" height="3.6" stroke="#0000ff" stroke-width="0.85" fill="none"/>
<rect x="189.31" y="220.75" width="3.6" height="3.6" stroke="#0000ff" stroke-width="0.85" fill="none"/>
<rect x="192.89" y="220.44" width="3.6" height="3.6" stroke="#0000ff" stroke-width="0.85" fill="none"/>
<rect x="196.48" y="220.12" width="3.6" height="3.6" stroke="#0000ff" stroke-width="0.85" fill="none"/>
<rect x="200.06" y="219.81" width="3.6" height="3.6" stroke="#0000ff" stroke-width="0.85" fill="none"/>
<rect x="203.65" y="219.49" width="3.6" height="3.6" stroke="#0000ff" stroke-width="0.85" fill="none"/>
<rect x="207.24" y="219.17" width="3.6" height="3.6" stroke="#0000ff" stroke-width="0.85" fill="none"/>
<rect x="210.82" y="218.85" width="3.6" height="3.6" stroke="#0000ff" stroke-width="0.85" fill="none"/>
<rect x="214.41" y="218.53" width="3.6" height="3.6" stroke="#0000ff" stroke-width="0.85" fill="none"/>
<rect x="217.99" y="218.20" width="3.6" height="3.6" stroke="#0000ff" stroke-width="0.85" fill="none"/>
<rect x="221.58" y="217.86" width="3.6" height="3.6" stroke="#0000ff" stroke-width="0.85" fill="none"/>
<rect x="225.16" y="217.52" width="3.6" height="3.6" stroke="#0000ff" stroke-width="0.85" fill="none"/>
<rect x="228.75" y="217.17" width="3.6" height="3.6" stroke="#0000ff" stroke-width="0.85" fill="none"/>
<rect x="232.34" y="216.81" width="3.6" height="3.6" stroke="#0000ff" stroke-width="0.85" fill="none"/>
<rect x="235.92" y="216.44" width="3.6" height="3.6" stroke="#0000ff" stroke-width="0.85" fill="none"/>
<rect x="239.51" y="216.05" width="3.6" height="3.6" stroke="#0000ff" stroke-width="0.85" fill="none"/>
<rect x="243.09" y="215.65" width="3.6" height="3.6" stroke="#0000ff" stroke-width="0.85" fill="none"/>
<rect x="246.68" y="215.23" width="3.6" height="3.6" stroke="#0000ff" stroke-width="0.85" fill="none"/>
<rect x="250.27" y="214.79" width="3.6" height="3.6" stroke="#0000ff" stroke-width="0.85" fill="none"/>
<rect x="253.85" y="214.32" width="3.6" height="3.6" stroke="#0000ff" stroke-width="0.85" fill="none"/>
<rect x="257.44" y="213.82" width="3.6" height="3.6" stroke="#0000ff" stroke-width="0.85" fill="none"/>
<rect x="261.02" y="213.28" width="3.6" height="3.6" stroke="#0000ff" stroke-width="0.85" fill="none"/>
<rect x="264.61" y="212.69" width="3.6" height="3.6" stroke="#0000ff" stroke-width="0.85" fill="none"/>
<rect x="268.19" y="212.04" width="3.6" height="3.6" stroke="#0000ff" stroke-width="0.85" fill="none"/>
<rect x="271.78" y="211.32" width="3.6" height="3.6" stroke="#0000ff" stroke-width="0.85" fill="none"/>
<rect x="275.37" y="210.52" width="3.6" height="3.6" stroke="#0000ff" stroke-width="0.85" fill="none"/>
<rect x="278.95" y="209.63" width="3.6" height="3.6" stroke="#0000ff" stroke-width="0.85" fill="none"/>
<rect x="282.54" y="208.61" width="3.6" height="3.6" stroke="#0000ff" stroke-width="0.85" fill="none"/>
<rect x="286.12" y="207.46" width="3.6" height="3.6" stroke="#0000ff" stroke-width="0.85" fill="none"/>
<rect x="289.71" y="206.13" width="3.6" height="3.6" stroke="#0000ff" stroke-width="0.85" fill="none"/>
<rect x="293.30" y="204.60" width="3.6" height="3.6" stroke="#0000ff" stroke-width="0.85" fill="none"/>
<rect x="296.88" y="202.83" width="3.6" height="3.6" stroke="#0000ff" stroke-width="0.85" fill="none"/>
<rect x="300.47" y="200.77" width="3.6" height="3.6" stroke="#0000ff" stroke-width="0.85" fill="none"/>
<rect x="304.05" y="198.35" width="3.6" height="3.6" stroke="#0000ff" stroke-width="0.85" fill="none"/>
<rect x="307.64" y="195.51" width="3.6" height="3.6" stroke="#0000ff" stroke-width="0.85" fill="none"/>
<rect x="311.23" y="192.17" width="3.6" height="3.6" stroke="#0000ff" stroke-width="0.85" fill="none"/>
<rect x="314.81" y="188.23" width="3.6" height="3.6" stroke="#0000ff" stroke-width="0.85" fill="none"/>
<rect x="318.40" y="183.56" width="3.6" height="3.6" stroke="#0000ff" stroke-width="0.85" fill="none"/>
<rect x="321.98" y="178.02" width="3.6" height="3.6" stroke="#0000ff" stroke-width="0.85" fill="none"/>
<rect x="325.57" y="171.44" width="3.6" height="3.6" stroke="#0000ff" stroke-width="0.85" fill="none"/>
<rect x="329.15" y="163.60" width="3.6" height="3.6" stroke="#0000ff" stroke-width="0.85" fill="none"/>
<rect x="332.74" y="154.27" width="3.6" height="3.6" stroke="#0000ff" stroke-width="0.85" fill="none"/>
<rect x="336.33" y="143.14" width="3.6" height="3.6" stroke="#0000ff" stroke-width="0.85" fill="none"/>
<rect x="339.91" y="129.86" width="3.6" height="3.6" stroke="#0000ff" stroke-width="0.85" fill="none"/>
<rect x="343.50" y="113.99" width="3.6" height="3.6" stroke="#0000ff" stroke-width="0.85" fill="none"/>
<rect x="347.08" y="95.03" width="3.6" height="3.6" stroke="#0000ff" stroke-width="0.85" fill="none"/>
<rect x="350.67" y="72.35" width="3.6" height="3.6" stroke="#0000ff" stroke-width="0.85" fill="none"/>
<rect x="354.26" y="45.21" width="3.6" height="3.6" stroke="#0000ff" stroke-width="0.85" fill="none"/>
<rect x="357.84" y="12.73" width="3.6" height="3.6" stroke="#0000ff" stroke-width="0.85" fill="none"/>
<path d="M40.50 238.03L44.09 237.73L47.67 237.42L51.26 237.12L54.84 236.82L58.43 236.51L62.02 236.21L65.60 235.91L69.19 235.60L72.77 235.30L76.36 235.00L79.94 234.69L83.53 234.39L87.12 234.09L90.70 233.78L94.29 233.48L97.87 233.17L101.46 232.87L105.05 232.57L108.63 232.26L112.22 231.96L115.80 231.66L119.39 231.35L122.97 231.05L126.56 230.74L130.15 230.44L133.73 230.14L137.32 229.83L140.90 229.53L144.49 229.22L148.08 228.92L151.66 228.61L155.25 228.31L158.83 228.00L162.42 227.70L166.01 227.39L169.59 227.08L173.18 226.78L176.76 226.47L180.35 226.16L183.93 225.85L187.52 225.54L191.11 225.22L194.69 224.91L198.28 224.59L201.86 224.27L205.45 223.94L209.04 223.62L212.62 223.28L216.21 222.94L219.79 222.60L223.38 222.24L226.96 221.88L230.55 221.50L234.14 221.11L237.72 220.70L241.31 220.27L244.89 219.82L248.48 219.34L252.07 218.82L255.65 218.25L259.24 217.64L262.82 216.96L266.41 216.21L269.99 215.37L273.58 214.42L277.17 213.34L280.75 212.12L284.34 210.70L287.92 209.07L291.51 207.17L295.10 204.95L298.68 202.35L302.27 199.29L305.85 195.69L309.44 191.43L313.03 186.38L316.61 180.38L320.20 173.26L323.78 164.77L327.37 154.66L330.95 142.59L334.54 128.18L338.13 110.97L341.71 90.38L345.30 65.76L348.88 36.30L352.47 1.03L356.06 -41.20L359.64 -91.78L363.23 -152.36L366.81 -224.95L370.40 -311.92L373.98 -416.16" stroke="#ff00ff" stroke-width="0.85" fill="none" clip-path="url(#c)"/>
<rect x="38.60" y="236.13" width="3.8" height="3.8" fill="#ff00ff"/>
<rect x="42.19" y="235.83" width="3.8" height="3.8" fill="#ff00ff"/>
<rect x="45.77" y="235.52" width="3.8" height="3.8" fill="#ff00ff"/>
<rect x="49.36" y="235.22" width="3.8" height="3.8" fill="#ff00ff"/>
<rect x="52.94" y="234.92" width="3.8" height="3.8" fill="#ff00ff"/>
<rect x="56.53" y="234.61" width="3.8" height="3.8" fill="#ff00ff"/>
<rect x="60.12" y="234.31" width="3.8" height="3.8" fill="#ff00ff"/>
<rect x="63.70" y="234.01" width="3.8" height="3.8" fill="#ff00ff"/>
<rect x="67.29" y="233.70" width="3.8" height="3.8" fill="#ff00ff"/>
<rect x="70.87" y="233.40" width="3.8" height="3.8" fill="#ff00ff"/>
<rect x="74.46" y="233.10" width="3.8" height="3.8" fill="#ff00ff"/>
<rect x="78.04" y="232.79" width="3.8" height="3.8" fill="#ff00ff"/>
<rect x="81.63" y="232.49" width="3.8" height="3.8" fill="#ff00ff"/>
<rect x="85.22" y="232.19" width="3.8" height="3.8" fill="#ff00ff"/>
<rect x="88.80" y="231.88" width="3.8" height="3.8" fill="#ff00ff"/>
<rect x="92.39" y="231.58" width="3.8" height="3.8" fill="#ff00ff"/>
<rect x="95.97" y="231.27" width="3.8" height="3.8" fill="#ff00ff"/>
<rect x="99.56" y="230.97" width="3.8" height="3.8" fill="#ff00ff"/>
<rect x="103.15" y="230.67" width="3.8" height="3.8" fill="#ff00ff"/>
<rect x="106.73" y="230.36" width="3.8" height="3.8" fill="#ff00ff"/>
<rect x="110.32" y="230.06" width="3.8" height="3.8" fill="#ff00ff"/>
<rect x="113.90" y="229.76" width="3.8" height="3.8" fill="#ff00ff"/>
<rect x="117.49" y="229.45" width="3.8" height="3.8" fill="#ff00ff"/>
<rect x="121.07" y="229.15" width="3.8" height="3.8" fill="#ff00ff"/>
<rect x="124.66" y="228.84" width="3.8" height="3.8" fill="#ff00ff"/>
<rect x="128.25" y="228.54" width="3.8" height="3.8" fill="#ff00ff"/>
<rect x="131.83" y="228.24" width="3.8" height="3.8" fill="#ff00ff"/>
<rect x="135.42" y="227.93" width="3.8" height="3.8" fill="#ff00ff"/>
<rect x="139.00" y="227.63" width="3.8" height="3.8" fill="#ff00ff"/>
<rect x="142.59" y="227.32" width="3.8" height="3.8" fill="#ff00ff"/>
<rect x="146.18" y="227.02" width="3.8" height="3.8" fill="#ff00ff"/>
<rect x="149.76" y="226.71" width="3.8" height="3.8" fill="#ff00ff"/>
<rect x="153.35" y="226.41" width="3.8" height="3.8" fill="#ff00ff"/>
<rect x="156.93" y="226.10" width="3.8" height="3.8" fill="#ff00ff"/>
<rect x="160.52" y="225.80" width="3.8" height="3.8" fill="#ff00ff"/>
<rect x="164.11" y="225.49" width="3.8" height="3.8" fill="#ff00ff"/>
<rect x="167.69" y="225.18" width="3.8" height="3.8" fill="#ff00ff"/>
<rect x="171.28" y="224.88" width="3.8" height="3.8" fill="#ff00ff"/>
<rect x="174.86" y="224.57" width="3.8" height="3.8" fill="#ff00ff"/>
<rect x="178.45" y="224.26" width="3.8" height="3.8" fill="#ff00ff"/>
<rect x="182.03" y="223.95" width="3.8" height="3.8" fill="#ff00ff"/>
<rect x="185.62" y="223.64" width="3.8" height="3.8" fill="#ff00ff"/>
<rect x="189.21" y="223.32" width="3.8" height="3.8" fill="#ff00ff"/>
<rect x="192.79" y="223.01" width="3.8" height="3.8" fill="#ff00ff"/>
<rect x="196.38" y="222.69" width="3.8" height="3.8" fill="#ff00ff"/>
<rect x="199.96" y="222.37" width="3.8" height="3.8" fill="#ff00ff"/>
<rect x="203.55" y="222.04" width="3.8" height="3.8" fill="#ff00ff"/>
<rect x="207.14" y="221.72" width="3.8" height="3.8" fill="#ff00ff"/>
<rect x="210.72" y="221.38" width="3.8" height="3.8" fill="#ff00ff"/>
<rect x="214.31" y="221.04" width="3.8" height="3.8" fill="#ff00ff"/>
<rect x="217.89" y="220.70" width="3.8" height="3.8" fill="#ff00ff"/>
<rect x="221.48" y="220.34" width="3.8" height="3.8" fill="#ff00ff"/>
<rect x="225.06" y="219.98" width="3.8" height="3.8" fill="#ff00ff"/>
<rect x="228.65" y="219.60" width="3.8" height="3.8" fill="#ff00ff"/>
<rect x="232.24" y="219.21" width="3.8" height="3.8" fill="#ff00ff"/>
<rect x="235.82" y="218.80" width="3.8" height="3.8" fill="#ff00ff"/>
<rect x="239.41" y="218.37" width="3.8" height="3.8" fill="#ff00ff"/>
<rect x="242.99" y="217.92" width="3.8" height="3.8" fill="#ff00ff"/>
<rect x="246.58" y="217.44" width="3.8" height="3.8" fill="#ff00ff"/>
<rect x="250.17" y="216.92" width="3.8" height="3.8" fill="#ff00ff"/>
<rect x="253.75" y="216.35" width="3.8" height="3.8" fill="#ff00ff"/>
<rect x="257.34" y="215.74" width="3.8" height="3.8" fill="#ff00ff"/>
<rect x="260.92" y="215.06" width="3.8" height="3.8" fill="#ff00ff"/>
<rect x="264.51" y="214.31" width="3.8" height="3.8" fill="#ff00ff"/>
<rect x="268.09" y="213.47" width="3.8" height="3.8" fill="#ff00ff"/>
<rect x="271.68" y="212.52" width="3.8" height="3.8" fill="#ff00ff"/>
<rect x="275.27" y="211.44" width="3.8" height="3.8" fill="#ff00ff"/>
<rect x="278.85" y="210.22" width="3.8" height="3.8" fill="#ff00ff"/>
<rect x="282.44" y="208.80" width="3.8" height="3.8" fill="#ff00ff"/>
<rect x="286.02" y="207.17" width="3.8" height="3.8" fill="#ff00ff"/>
<rect x="289.61" y="205.27" width="3.8" height="3.8" fill="#ff00ff"/>
<rect x="293.20" y="203.05" width="3.8" height="3.8" fill="#ff00ff"/>
<rect x="296.78" y="200.45" width="3.8" height="3.8" fill="#ff00ff"/>
<rect x="300.37" y="197.39" width="3.8" height="3.8" fill="#ff00ff"/>
<rect x="303.95" y="193.79" width="3.8" height="3.8" fill="#ff00ff"/>
<rect x="307.54" y="189.53" width="3.8" height="3.8" fill="#ff00ff"/>
<rect x="311.13" y="184.48" width="3.8" height="3.8" fill="#ff00ff"/>
<rect x="314.71" y="178.48" width="3.8" height="3.8" fill="#ff00ff"/>
<rect x="318.30" y="171.36" width="3.8" height="3.8" fill="#ff00ff"/>
<rect x="321.88" y="162.87" width="3.8" height="3.8" fill="#ff00ff"/>
<rect x="325.47" y="152.76" width="3.8" height="3.8" fill="#ff00ff"/>
<rect x="329.05" y="140.69" width="3.8" height="3.8" fill="#ff00ff"/>
<rect x="332.64" y="126.28" width="3.8" height="3.8" fill="#ff00ff"/>
<rect x="336.23" y="109.07" width="3.8" height="3.8" fill="#ff00ff"/>
<rect x="339.81" y="88.48" width="3.8" height="3.8" fill="#ff00ff"/>
<rect x="343.40" y="63.86" width="3.8" height="3.8" fill="#ff00ff"/>
<rect x="346.98" y="34.40" width="3.8" height="3.8" fill="#ff00ff"/>
<path d="M40.50 233.26L44.09 232.86L47.67 232.47L51.26 232.08L54.84 231.70L58.43 231.32L62.02 230.94L65.60 230.58L69.19 230.21L72.77 229.85L76.36 229.49L79.94 229.14L83.53 228.80L87.12 228.45L90.70 228.12L94.29 227.78L97.87 227.45L101.46 227.13L105.05 226.81L108.63 226.50L112.22 226.19L115.80 225.88L119.39 225.58L122.97 225.27L126.56 224.97L130.15 224.66L133.73 224.36L137.32 224.05L140.90 223.75L144.49 223.44L148.08 223.14L151.66 222.83L155.25 222.53L158.83 222.22L162.42 221.91L166.01 221.60L169.59 221.29L173.18 220.98L176.76 220.67L180.35 220.36L183.93 220.04L187.52 219.72L191.11 219.40L194.69 219.08L198.28 218.75L201.86 218.41L205.45 218.07L209.04 217.73L212.62 217.37L216.21 217.00L219.79 216.63L223.38 216.23L226.96 215.82L230.55 215.39L234.14 214.93L237.72 214.44L241.31 213.91L244.89 213.34L248.48 212.71L252.07 212.03L255.65 211.26L259.24 210.40L262.82 209.44L266.41 208.34L269.99 207.08L273.58 205.63L277.17 203.95L280.75 202.00L284.34 199.72L287.92 197.05L291.51 193.91L295.10 190.21L298.68 185.82L302.27 180.62L305.85 174.45L309.44 167.11L313.03 158.37L316.61 147.95L320.20 135.52L323.78 120.67L327.37 102.93L330.95 81.71L334.54 56.33L338.13 25.96L341.71 -10.40L345.30 -53.93L348.88 -106.08L352.47 -168.54L356.06 -243.38L359.64 -333.06L363.23 -440.53" stroke="#00ffff" stroke-width="0.85" fill="none" clip-path="url(#c)"/>
<circle cx="40.50" cy="233.26" r="1.8" stroke="#00ffff" stroke-width="0.85" fill="none"/>
<circle cx="44.09" cy="232.86" r="1.8" stroke="#00ffff" stroke-width="0.85" fill="none"/>
<circle cx="47.67" cy="232.47" r="1.8" stroke="#00ffff" stroke-width="0.85" fill="none"/>
<circle cx="51.26" cy="232.08" r="1.8" stroke="#00ffff" stroke-width="0.85" fill="none"/>
<circle cx="54.84" cy="231.70" r="1.8" stroke="#00ffff" stroke-width="0.85" fill="none"/>
<circle cx="58.43" cy="231.32" r="1.8" stroke="#00ffff" stroke-width="0.85" fill="none"/>
<circle cx="62.02" cy="230.94" r="1.8" stroke="#00ffff" stroke-width="0.85" fill="none"/>
<circle cx="65.60" cy="230.58" r="1.8" stroke="#00ffff" stroke-width="0.85" fill="none"/>
<circle cx="69.19" cy="230.21" r="1.8" stroke="#00ffff" stroke-width="0.85" fill="none"/>
<circle cx="72.77" cy="229.85" r="1.8" stroke="#00ffff" stroke-width="0.85" fill="none"/>
<circle cx="76.36" cy="229.49" r="1.8" stroke="#00ffff" stroke-width="0.85" fill="none"/>
<circle cx="79.94" cy="229.14" r="1.8" stroke="#00ffff" stroke-width="0.85" fill="none"/>
<circle cx="83.53" cy="228.80" r="1.8" stroke="#00ffff" stroke-width="0.85" fill="none"/>
<circle cx="87.12" cy="228.45" r="1.8" stroke="#00ffff" stroke-width="0.85" fill="none"/>
<circle cx="90.70" cy="228.12" r="1.8" stroke="#00ffff" stroke-width="0.85" fill="none"/>
<circle cx="94.29" cy="227.78" r="1.8" stroke="#00ffff" stroke-width="0.85" fill="none"/>
<circle cx="97.87" cy="227.45" r="1.8" stroke="#00ffff" stroke-width="0.85" fill="none"/>
<circle cx="101.46" cy="227.13" r="1.8" stroke="#00ffff" stroke-width="0.85" fill="none"/>
<circle cx="105.05" cy="226.81" r="1.8" stroke="#00ffff" stroke-width="0.85" fill="none"/>
<circle cx="108.63" cy="226.50" r="1.8" stroke="#00ffff" stroke-width="0.85" fill="none"/>
<circle cx="112.22" cy="226.19" r="1.8" stroke="#00ffff" stroke-width="0.85" fill="none"/>
<circle cx="115.80" cy="225.88" r="1.8" stroke="#00ffff" stroke-width="0.85" fill="none"/>
<circle cx="119.39" cy="225.58" r="1.8" stroke="#00ffff" stroke-width="0.85" fill="none"/>
<circle cx="122.97" cy="225.27" r="1.8" stroke="#00ffff" stroke-width="0.85" fill="none"/>
<circle cx="126.56" cy="224.97" r="1.8" stroke="#00ffff" stroke-width="0.85" fill="none"/>
<circle cx="130.15" cy="224.66" r="1.8" stroke="#00ffff" stroke-width="0.85" fill="none"/>
<circle cx="133.73" cy="224.36" r="1.8" stroke="#00ffff" stroke-width="0.85" fill="none"/>
<circle cx="137.32" cy="224.05" r="1.8" stroke="#00ffff" stroke-width="0.85" fill="none"/>
<circle cx="140.90" cy="223.75" r="1.8" stroke="#00ffff" stroke-width="0.85" fill="none"/>
<circle cx="144.49" cy="223.44" r="1.8" stroke="#00ffff" stroke-width="0.85" fill="none"/>
<circle cx="148.08" cy="223.14" r="1.8" stroke="#00ffff" stroke-width="0.85" fill="none"/>
<circle cx="151.66" cy="222.83" r="1.8" stroke="#00ffff" stroke-width="0.85" fill="none"/>
<circle cx="155.25" cy="222.53" r="1.8" stroke="#00ffff" stroke-width="0.85" fill="none"/>
<circle cx="158.83" cy="222.22" r="1.8" stroke="#00ffff" stroke-width="0.85" fill="none"/>
<circle cx="162.42" cy="221.91" r="1.8" stroke="#00ffff" stroke-width="0.85" fill="none"/>
<circle cx="166.01" cy="221.60" r="1.8" stroke="#00ffff" stroke-width="0.85" fill="none"/>
<circle cx="169.59" cy="221.29" r="1.8" stroke="#00ffff" stroke-width="0.85" fill="none"/>
<circle cx="173.18" cy="220.98" r="1.8" stroke="#00ffff" stroke-width="0.85" fill="none"/>
<circle cx="176.76" cy="220.67" r="1.8" stroke="#00ffff" stroke-width="0.85" fill="none"/>
<circle cx="180.35" cy="220.36" r="1.8" stroke="#00ffff" stroke-width="0.85" fill="none"/>
<circle cx="183.93" cy="220.04" r="1.8" stroke="#00ffff" stroke-width="0.85" fill="none"/>
<circle cx="187.52" cy="219.72" r="1.8" stroke="#00ffff" stroke-width="0.85" fill="none"/>
<circle cx="191.11" cy="219.40" r="1.8" stroke="#00ffff" stroke-width="0.85" fill="none"/>
<circle cx="194.69" cy="219.08" r="1.8" stroke="#00ffff" stroke-width="0.85" fill="none"/>
<circle cx="198.28" cy="218.75" r="1.8" stroke="#00ffff" stroke-width="0.85" fill="none"/>
<circle cx="201.86" cy="218.41" r="1.8" stroke="#00ffff" stroke-width="0.85" fill="none"/>
<circle cx="205.45" cy="218.07" r="1.8" stroke="#00ffff" stroke-width="0.85" fill="none"/>
<circle cx="209.04" cy="217.73" r="1.8" stroke="#00ffff" stroke-width="0.85" fill="none"/>
<circle cx="212.62" cy="217.37" r="1.8" stroke="#00ffff" stroke-width="0.85" fill="none"/>
<circle cx="216.21" cy="217.00" r="1.8" stroke="#00ffff" stroke-width="0.85" fill="none"/>
<circle cx="219.79" cy="216.63" r="1.8" stroke="#00ffff" stroke-width="0.85" fill="none"/>
<circle cx="223.38" cy="216.23" r="1.8" stroke="#00ffff" stroke-width="0.85" fill="none"/>
<circle cx="226.96" cy="215.82" r="1.8" stroke="#00ffff" stroke-width="0.85" fill="none"/>
<circle cx="230.55" cy="215.39" r="1.8" stroke="#00ffff" stroke-width="0.85" fill="none"/>
<circle cx="234.14" cy="214.93" r="1.8" stroke="#00ffff" stroke-width="0.85" fill="none"/>
<circle cx="237.72" cy="214.44" r="1.8" stroke="#00ffff" stroke-width="0.85" fill="none"/>
<circle cx="241.31" cy="213.91" r="1.8" stroke="#00ffff" stroke-width="0.85" fill="none"/>
<circle cx="244.89" cy="213.34" r="1.8" stroke="#00ffff" stroke-width="0.85" fill="none"/>
<circle cx="248.48" cy="212.71" r="1.8" stroke="#00ffff" stroke-width="0.85" fill="none"/>
<circle cx="252.07" cy="212.03" r="1.8" stroke="#00ffff" stroke-width="0.85" fill="none"/>
<circle cx="255.65" cy="211.26" r="1.8" stroke="#00ffff" stroke-width="0.85" fill="none"/>
<circle cx="259.24" cy="210.40" r="1.8" stroke="#00ffff" stroke-width="0.85" fill="none"/>
<circle cx="262.82" cy="209.44" r="1.8" stroke="#00ffff" stroke-width="0.85" fill="none"/>
<circle cx="266.41" cy="208.34" r="1.8" stroke="#00ffff" stroke-width="0.85" fill="none"/>
<circle cx="269.99" cy="207.08" r="1.8" stroke="#00ffff" stroke-width="0.85" fill="none"/>
<circle cx="273.58" cy="205.63" r="1.8" stroke="#00ffff" stroke-width="0.85" fill="none"/>
<circle cx="277.17" cy="203.95" r="1.8" stroke="#00ffff" stroke-width="0.85" fill="none"/>
<circle cx="280.75" cy="202.00" r="1.8" stroke="#00ffff" stroke-width="0.85" fill="none"/>
<circle cx="284.34" cy="199.72" r="1.8" stroke="#00ffff" stroke-width="0.85" fill="none"/>
<circle cx="287.92" cy="197.05" r="1.8" stroke="#00ffff" stroke-width="0.85" fill="none"/>
<circle cx="291.51" cy="193.91" r="1.8" stroke="#00ffff" stroke-width="0.85" fill="none"/>
<circle cx="295.10" cy="190.21" r="1.8" stroke="#00ffff" stroke-width="0.85" fill="none"/>
<circle cx="298.68" cy="185.82" r="1.8" stroke="#00ffff" stroke-width="0.85" fill="none"/>
<circle cx="302.27" cy="180.62" r="1.8" stroke="#00ffff" stroke-width="0.85" fill="none"/>
<circle cx="305.85" cy="174.45" r="1.8" stroke="#00ffff" stroke-width="0.85" fill="none"/>
<circle cx="309.44" cy="167.11" r="1.8" stroke="#00ffff" stroke-width="0.85" fill="none"/>
<circle cx="313.03" cy="158.37" r="1.8" stroke="#00ffff" stroke-width="0.85" fill="none"/>
<circle cx="316.61" cy="147.95" r="1.8" stroke="#00ffff" stroke-width="0.85" fill="none"/>
<circle cx="320.20" cy="135.52" r="1.8" stroke="#00ffff" stroke-width="0.85" fill="none"/>
<circle cx="323.78" cy="120.67" r="1.8" stroke="#00ffff" stroke-width="0.85" fill="none"/>
<circle cx="327.37" cy="102.93" r="1.8" stroke="#00ffff" stroke-width="0.85" fill="none"/>
<circle cx="330.95" cy="81.71" r="1.8" stroke="#00ffff" stroke-width="0.85" fill="none"/>
<circle cx="334.54" cy="56.33" r="1.8" stroke="#00ffff" stroke-width="0.85" fill="none"/>
<circle cx="338.13" cy="25.96" r="1.8" stroke="#00ffff" stroke-width="0.85" fill="none"/>
<path d="M40.50 229.79L44.09 229.40L47.67 229.00L51.26 228.62L54.84 228.23L58.43 227.85L62.02 227.48L65.60 227.11L69.19 226.74L72.77 226.38L76.36 226.03L79.94 225.68L83.53 225.33L87.12 224.99L90.70 224.65L94.29 224.32L97.87 223.99L101.46 223.66L105.05 223.34L108.63 223.03L112.22 222.72L115.80 222.41L119.39 222.11L122.97 221.80L126.56 221.50L130.15 221.19L133.73 220.89L137.32 220.58L140.90 220.27L144.49 219.97L148.08 219.66L151.66 219.35L155.25 219.04L158.83 218.73L162.42 218.41L166.01 218.10L169.59 217.78L173.18 217.46L176.76 217.14L180.35 216.81L183.93 216.48L187.52 216.15L191.11 215.80L194.69 215.45L198.28 215.09L201.86 214.72L205.45 214.33L209.04 213.93L212.62 213.51L216.21 213.07L219.79 212.59L223.38 212.09L226.96 211.54L230.55 210.95L234.14 210.29L237.72 209.57L241.31 208.76L244.89 207.86L248.48 206.83L252.07 205.66L255.65 204.32L259.24 202.77L262.82 200.97L266.41 198.88L269.99 196.42L273.58 193.54L277.17 190.15L280.75 186.14L284.34 181.40L287.92 175.77L291.51 169.08L295.10 161.12L298.68 151.63L302.27 140.32L305.85 126.81L309.44 110.68L313.03 91.39L316.61 68.33L320.20 40.73L323.78 7.70L327.37 -31.84L330.95 -79.20L334.54 -135.92L338.13 -203.88L341.71 -285.30L345.30 -382.88L348.88 -499.82" stroke="#ffff00" stroke-width="0.85" fill="none" clip-path="url(#c)"/>
<circle cx="40.50" cy="229.79" r="2.2" fill="#ffff00"/>
<circle cx="44.09" cy="229.40" r="2.2" fill="#ffff00"/>
<circle cx="47.67" cy="229.00" r="2.2" fill="#ffff00"/>
<circle cx="51.26" cy="228.62" r="2.2" fill="#ffff00"/>
<circle cx="54.84" cy="228.23" r="2.2" fill="#ffff00"/>
<circle cx="58.43" cy="227.85" r="2.2" fill="#ffff00"/>
<circle cx="62.02" cy="227.48" r="2.2" fill="#ffff00"/>
<circle cx="65.60" cy="227.11" r="2.2" fill="#ffff00"/>
<circle cx="69.19" cy="226.74" r="2.2" fill="#ffff00"/>
<circle cx="72.77" cy="226.38" r="2.2" fill="#ffff00"/>
<circle cx="76.36" cy="226.03" r="2.2" fill="#ffff00"/>
<circle cx="79.94" cy="225.68" r="2.2" fill="#ffff00"/>
<circle cx="83.53" cy="225.33" r="2.2" fill="#ffff00"/>
<circle cx="87.12" cy="224.99" r="2.2" fill="#ffff00"/>
<circle cx="90.70" cy="224.65" r="2.2" fill="#ffff00"/>
<circle cx="94.29" cy="224.32" r="2.2" fill="#ffff00"/>
<circle cx="97.87" cy="223.99" r="2.2" fill="#ffff00"/>
<circle cx="101.46" cy="223.66" r="2.2" fill="#ffff00"/>
<circle cx="105.05" cy="223.34" r="2.2" fill="#ffff00"/>
<circle cx="108.63" cy="223.03" r="2.2" fill="#ffff00"/>
<circle cx="112.22" cy="222.72" r="2.2" fill="#ffff00"/>
<circle cx="115.80" cy="222.41" r="2.2" fill="#ffff00"/>
<circle cx="119.39" cy="222.11" r="2.2" fill="#ffff00"/>
<circle cx="122.97" cy="221.80" r="2.2" fill="#ffff00"/>
<circle cx="126.56" cy="221.50" r="2.2" fill="#ffff00"/>
<circle cx="130.15" cy="221.19" r="2.2" fill="#ffff00"/>
<circle cx="133.73" cy="220.89" r="2.2" fill="#ffff00"/>
<circle cx="137.32" cy="220.58" r="2.2" fill="#ffff00"/>
<circle cx="140.90" cy="220.27" r="2.2" fill="#ffff00"/>
<circle cx="144.49" cy="219.97" r="2.2" fill="#ffff00"/>
<circle cx="148.08" cy="219.66" r="2.2" fill="#ffff00"/>
<circle cx="151.66" cy="219.35" r="2.2" fill="#ffff00"/>
<circle cx="155.25" cy="219.04" r="2.2" fill="#ffff00"/>
<circle cx="158.83" cy="218.73" r="2.2" fill="#ffff00"/>
<circle cx="162.42" cy="218.41" r="2.2" fill="#ffff00"/>
<circle cx="166.01" cy="218.10" r="2.2" fill="#ffff00"/>
<circle cx="169.59" cy="217.78" r="2.2" fill="#ffff00"/>
<circle cx="173.18" cy="217.46" r="2.2" fill="#ffff00"/>
<circle cx="176.76" cy="217.14" r="2.2" fill="#ffff00"/>
<circle cx="180.35" cy="216.81" r="2.2" fill="#ffff00"/>
<circle cx="183.93" cy="216.48" r="2.2" fill="#ffff00"/>
<circle cx="187.52" cy="216.15" r="2.2" fill="#ffff00"/>
<circle cx="191.11" cy="215.80" r="2.2" fill="#ffff00"/>
<circle cx="194.69" cy="215.45" r="2.2" fill="#ffff00"/>
<circle cx="198.28" cy="215.09" r="2.2" fill="#ffff00"/>
<circle cx="201.86" cy="214.72" r="2.2" fill="#ffff00"/>
<circle cx="205.45" cy="214.33" r="2.2" fill="#ffff00"/>
<circle cx="209.04" cy="213.93" r="2.2" fill="#ffff00"/>
<circle cx="212.62" cy="213.51" r="2.2" fill="#ffff00"/>
<circle cx="216.21" cy="213.07" r="2.2" fill="#ffff00"/>
<circle cx="219.79" cy="212.59" r="2.2" fill="#ffff00"/>
<circle cx="223.38" cy="212.09" r="2.2" fill="#ffff00"/>
<circle cx="226.96" cy="211.54" r="2.2" fill="#ffff00"/>
<circle cx="230.55" cy="210.95" r="2.2" fill="#ffff00"/>
<circle cx="234.14" cy="210.29" r="2.2" fill="#ffff00"/>
<circle cx="237.72" cy="209.57" r="2.2" fill="#ffff00"/>
<circle cx="241.31" cy="208.76" r="2.2" fill="#ffff00"/>
<circle cx="244.89" cy="207.86" r="2.2" fill="#ffff00"/>
<circle cx="248.48" cy="206.83" r="2.2" fill="#ffff00"/>
<circle cx="252.07" cy="205.66" r="2.2" fill="#ffff00"/>
<circle cx="255.65" cy="204.32" r="2.2" fill="#ffff00"/>
<circle cx="259.24" cy="202.77" r="2.2" fill="#ffff00"/>
<circle cx="262.82" cy="200.97" r="2.2" fill="#ffff00"/>
<circle cx="266.41" cy="198.88" r="2.2" fill="#ffff00"/>
<circle cx="269.99" cy="196.42" r="2.2" fill="#ffff00"/>
<circle cx="273.58" cy="193.54" r="2.2" fill="#ffff00"/>
<circle cx="277.17" cy="190.15" r="2.2" fill="#ffff00"/>
<circle cx="280.75" cy="186.14" r="2.2" fill="#ffff00"/>
<circle cx="284.34" cy="181.40" r="2.2" fill="#ffff00"/>
<circle cx="287.92" cy="175.77" r="2.2" fill="#ffff00"/>
<circle cx="291.51" cy="169.08" r="2.2" fill="#ffff00"/>
<circle cx="295.10" cy="161.12" r="2.2" fill="#ffff00"/>
<circle cx="298.68" cy="151.63" r="2.2" fill="#ffff00"/>
<circle cx="302.27" cy="140.32" r="2.2" fill="#ffff00"/>
<circle cx="305.85" cy="126.81" r="2.2" fill="#ffff00"/>
<circle cx="309.44" cy="110.68" r="2.2" fill="#ffff00"/>
<circle cx="313.03" cy="91.39" r="2.2" fill="#ffff00"/>
<circle cx="316.61" cy="68.33" r="2.2" fill="#ffff00"/>
<circle cx="320.20" cy="40.73" r="2.2" fill="#ffff00"/>
<path d="M40.50 226.33L44.09 226.02L47.67 225.72L51.26 225.42L54.84 225.11L58.43 224.81L62.02 224.51L65.60 224.20L69.19 223.90L72.77 223.59L76.36 223.29L79.94 222.99L83.53 222.68L87.12 222.38L90.70 222.08L94.29 221.77L97.87 221.47L101.46 221.16L105.05 220.86L108.63 220.55L112.22 220.25L115.80 219.94L119.39 219.64L122.97 219.33L126.56 219.03L130.15 218.72L133.73 218.41L137.32 218.10L140.90 217.79L144.49 217.48L148.08 217.17L151.66 216.86L155.25 216.54L158.83 216.23L162.42 215.91L166.01 215.58L169.59 215.26L173.18 214.92L176.76 214.59L180.35 214.24L183.93 213.89L187.52 213.53L191.11 213.15L194.69 212.77L198.28 212.36L201.86 211.94L205.45 211.49L209.04 211.01L212.62 210.50L216.21 209.94L219.79 209.34L223.38 208.67L226.96 207.94L230.55 207.12L234.14 206.19L237.72 205.14L241.31 203.94L244.89 202.57L248.48 200.98L252.07 199.14L255.65 196.99L259.24 194.47L262.82 191.51L266.41 188.02L269.99 183.89L273.58 179.01L277.17 173.22L280.75 166.33L284.34 158.13L287.92 148.36L291.51 136.70L295.10 122.78L298.68 106.15L302.27 86.28L305.85 62.50L309.44 34.06L313.03 0.01L316.61 -40.76L320.20 -89.58L323.78 -148.06L327.37 -218.13L330.95 -302.08L334.54 -402.69" stroke="#989898" stroke-width="0.85" fill="none" clip-path="url(#c)"/>
<path d="M40.50 223.93L42.80 227.53H38.20Z" fill="#7a7a7a" fill-opacity="0.15" stroke="#7a7a7a" stroke-width="0.85" stroke-linejoin="round"/>
<path d="M44.09 223.62L46.39 227.22H41.79Z" fill="#7a7a7a" fill-opacity="0.15" stroke="#7a7a7a" stroke-width="0.85" stroke-linejoin="round"/>
<path d="M47.67 223.32L49.97 226.92H45.37Z" fill="#7a7a7a" fill-opacity="0.15" stroke="#7a7a7a" stroke-width="0.85" stroke-linejoin="round"/>
<path d="M51.26 223.02L53.56 226.62H48.96Z" fill="#7a7a7a" fill-opacity="0.15" stroke="#7a7a7a" stroke-width="0.85" stroke-linejoin="round"/>
<path d="M54.84 222.71L57.14 226.31H52.54Z" fill="#7a7a7a" fill-opacity="0.15" stroke="#7a7a7a" stroke-width="0.85" stroke-linejoin="round"/>
<path d="M58.43 222.41L60.73 226.01H56.13Z" fill="#7a7a7a" fill-opacity="0.15" stroke="#7a7a7a" stroke-width="0.85" stroke-linejoin="round"/>
<path d="M62.02 222.11L64.32 225.71H59.72Z" fill="#7a7a7a" fill-opacity="0.15" stroke="#7a7a7a" stroke-width="0.85" stroke-linejoin="round"/>
<path d="M65.60 221.80L67.90 225.40H63.30Z" fill="#7a7a7a" fill-opacity="0.15" stroke="#7a7a7a" stroke-width="0.85" stroke-linejoin="round"/>
<path d="M69.19 221.50L71.49 225.10H66.89Z" fill="#7a7a7a" fill-opacity="0.15" stroke="#7a7a7a" stroke-width="0.85" stroke-linejoin="round"/>
<path d="M72.77 221.19L75.07 224.79H70.47Z" fill="#7a7a7a" fill-opacity="0.15" stroke="#7a7a7a" stroke-width="0.85" stroke-linejoin="round"/>
<path d="M76.36 220.89L78.66 224.49H74.06Z" fill="#7a7a7a" fill-opacity="0.15" stroke="#7a7a7a" stroke-width="0.85" stroke-linejoin="round"/>
<path d="M79.94 220.59L82.24 224.19H77.64Z" fill="#7a7a7a" fill-opacity="0.15" stroke="#7a7a7a" stroke-width="0.85" stroke-linejoin="round"/>
<path d="M83.53 220.28L85.83 223.88H81.23Z" fill="#7a7a7a" fill-opacity="0.15" stroke="#7a7a7a" stroke-width="0.85" stroke-linejoin="round"/>
<path d="M87.12 219.98L89.42 223.58H84.82Z" fill="#7a7a7a" fill-opacity="0.15" stroke="#7a7a7a" stroke-width="0.85" stroke-linejoin="round"/>
<path d="M90.70 219.68L93.00 223.28H88.40Z" fill="#7a7a7a" fill-opacity="0.15" stroke="#7a7a7a" stroke-width="0.85" stroke-linejoin="round"/>
<path d="M94.29 219.37L96.59 222.97H91.99Z" fill="#7a7a7a" fill-opacity="0.15" stroke="#7a7a7a" stroke-width="0.85" stroke-linejoin="round"/>
<path d="M97.87 219.07L100.17 222.67H95.57Z" fill="#7a7a7a" fill-opacity="0.15" stroke="#7a7a7a" stroke-width="0.85" stroke-linejoin="round"/>
<path d="M101.46 218.76L103.76 222.36H99.16Z" fill="#7a7a7a" fill-opacity="0.15" stroke="#7a7a7a" stroke-width="0.85" stroke-linejoin="round"/>
<path d="M105.05 218.46L107.35 222.06H102.75Z" fill="#7a7a7a" fill-opacity="0.15" stroke="#7a7a7a" stroke-width="0.85" stroke-linejoin="round"/>
<path d="M108.63 218.15L110.93 221.75H106.33Z" fill="#7a7a7a" fill-opacity="0.15" stroke="#7a7a7a" stroke-width="0.85" stroke-linejoin="round"/>
<path d="M112.22 217.85L114.52 221.45H109.92Z" fill="#7a7a7a" fill-opacity="0.15" stroke="#7a7a7a" stroke-width="0.85" stroke-linejoin="round"/>
<path d="M115.80 217.54L118.10 221.14H113.50Z" fill="#7a7a7a" fill-opacity="0.15" stroke="#7a7a7a" stroke-width="0.85" stroke-linejoin="round"/>
<path d="M119.39 217.24L121.69 220.84H117.09Z" fill="#7a7a7a" fill-opacity="0.15" stroke="#7a7a7a" stroke-width="0.85" stroke-linejoin="round"/>
<path d="M122.97 216.93L125.27 220.53H120.67Z" fill="#7a7a7a" fill-opacity="0.15" stroke="#7a7a7a" stroke-width="0.85" stroke-linejoin="round"/>
<path d="M126.56 216.63L128.86 220.23H124.26Z" fill="#7a7a7a" fill-opacity="0.15" stroke="#7a7a7a" stroke-width="0.85" stroke-linejoin="round"/>
<path d="M130.15 216.32L132.45 219.92H127.85Z" fill="#7a7a7a" fill-opacity="0.15" stroke="#7a7a7a" stroke-width="0.85" stroke-linejoin="round"/>
<path d="M133.73 216.01L136.03 219.61H131.43Z" fill="#7a7a7a" fill-opacity="0.15" stroke="#7a7a7a" stroke-width="0.85" stroke-linejoin="round"/>
<path d="M137.32 215.70L139.62 219.30H135.02Z" fill="#7a7a7a" fill-opacity="0.15" stroke="#7a7a7a" stroke-width="0.85" stroke-linejoin="round"/>
<path d="M140.90 215.39L143.20 218.99H138.60Z" fill="#7a7a7a" fill-opacity="0.15" stroke="#7a7a7a" stroke-width="0.85" stroke-linejoin="round"/>
<path d="M144.49 215.08L146.79 218.68H142.19Z" fill="#7a7a7a" fill-opacity="0.15" stroke="#7a7a7a" stroke-width="0.85" stroke-linejoin="round"/>
<path d="M148.08 214.77L150.38 218.37H145.78Z" fill="#7a7a7a" fill-opacity="0.15" stroke="#7a7a7a" stroke-width="0.85" stroke-linejoin="round"/>
<path d="M151.66 214.46L153.96 218.06H149.36Z" fill="#7a7a7a" fill-opacity="0.15" stroke="#7a7a7a" stroke-width="0.85" stroke-linejoin="round"/>
<path d="M155.25 214.14L157.55 217.74H152.95Z" fill="#7a7a7a" fill-opacity="0.15" stroke="#7a7a7a" stroke-width="0.85" stroke-linejoin="round"/>
<path d="M158.83 213.83L161.13 217.43H156.53Z" fill="#7a7a7a" fill-opacity="0.15" stroke="#7a7a7a" stroke-width="0.85" stroke-linejoin="round"/>
<path d="M162.42 213.51L164.72 217.11H160.12Z" fill="#7a7a7a" fill-opacity="0.15" stroke="#7a7a7a" stroke-width="0.85" stroke-linejoin="round"/>
<path d="M166.01 213.18L168.31 216.78H163.71Z" fill="#7a7a7a" fill-opacity="0.15" stroke="#7a7a7a" stroke-width="0.85" stroke-linejoin="round"/>
<path d="M169.59 212.86L171.89 216.46H167.29Z" fill="#7a7a7a" fill-opacity="0.15" stroke="#7a7a7a" stroke-width="0.85" stroke-linejoin="round"/>
<path d="M173.18 212.52L175.48 216.12H170.88Z" fill="#7a7a7a" fill-opacity="0.15" stroke="#7a7a7a" stroke-width="0.85" stroke-linejoin="round"/>
<path d="M176.76 212.19L179.06 215.79H174.46Z" fill="#7a7a7a" fill-opacity="0.15" stroke="#7a7a7a" stroke-width="0.85" stroke-linejoin="round"/>
<path d="M180.35 211.84L182.65 215.44H178.05Z" fill="#7a7a7a" fill-opacity="0.15" stroke="#7a7a7a" stroke-width="0.85" stroke-linejoin="round"/>
<path d="M183.93 211.49L186.23 215.09H181.63Z" fill="#7a7a7a" fill-opacity="0.15" stroke="#7a7a7a" stroke-width="0.85" stroke-linejoin="round"/>
<path d="M187.52 211.13L189.82 214.73H185.22Z" fill="#7a7a7a" fill-opacity="0.15" stroke="#7a7a7a" stroke-width="0.85" stroke-linejoin="round"/>
<path d="M191.11 210.75L193.41 214.35H188.81Z" fill="#7a7a7a" fill-opacity="0.15" stroke="#7a7a7a" stroke-width="0.85" stroke-linejoin="round"/>
<path d="M194.69 210.37L196.99 213.97H192.39Z" fill="#7a7a7a" fill-opacity="0.15" stroke="#7a7a7a" stroke-width="0.85" stroke-linejoin="round"/>
<path d="M198.28 209.96L200.58 213.56H195.98Z" fill="#7a7a7a" fill-opacity="0.15" stroke="#7a7a7a" stroke-width="0.85" stroke-linejoin="round"/>
<path d="M201.86 209.54L204.16 213.14H199.56Z" fill="#7a7a7a" fill-opacity="0.15" stroke="#7a7a7a" stroke-width="0.85" stroke-linejoin="round"/>
<path d="M205.45 209.09L207.75 212.69H203.15Z" fill="#7a7a7a" fill-opacity="0.15" stroke="#7a7a7a" stroke-width="0.85" stroke-linejoin="round"/>
<path d="M209.04 208.61L211.34 212.21H206.74Z" fill="#7a7a7a" fill-opacity="0.15" stroke="#7a7a7a" stroke-width="0.85" stroke-linejoin="round"/>
<path d="M212.62 208.10L214.92 211.70H210.32Z" fill="#7a7a7a" fill-opacity="0.15" stroke="#7a7a7a" stroke-width="0.85" stroke-linejoin="round"/>
<path d="M216.21 207.54L218.51 211.14H213.91Z" fill="#7a7a7a" fill-opacity="0.15" stroke="#7a7a7a" stroke-width="0.85" stroke-linejoin="round"/>
<path d="M219.79 206.94L222.09 210.54H217.49Z" fill="#7a7a7a" fill-opacity="0.15" stroke="#7a7a7a" stroke-width="0.85" stroke-linejoin="round"/>
<path d="M223.38 206.27L225.68 209.87H221.08Z" fill="#7a7a7a" fill-opacity="0.15" stroke="#7a7a7a" stroke-width="0.85" stroke-linejoin="round"/>
<path d="M226.96 205.54L229.26 209.14H224.66Z" fill="#7a7a7a" fill-opacity="0.15" stroke="#7a7a7a" stroke-width="0.85" stroke-linejoin="round"/>
<path d="M230.55 204.72L232.85 208.32H228.25Z" fill="#7a7a7a" fill-opacity="0.15" stroke="#7a7a7a" stroke-width="0.85" stroke-linejoin="round"/>
<path d="M234.14 203.79L236.44 207.39H231.84Z" fill="#7a7a7a" fill-opacity="0.15" stroke="#7a7a7a" stroke-width="0.85" stroke-linejoin="round"/>
<path d="M237.72 202.74L240.02 206.34H235.42Z" fill="#7a7a7a" fill-opacity="0.15" stroke="#7a7a7a" stroke-width="0.85" stroke-linejoin="round"/>
<path d="M241.31 201.54L243.61 205.14H239.01Z" fill="#7a7a7a" fill-opacity="0.15" stroke="#7a7a7a" stroke-width="0.85" stroke-linejoin="round"/>
<path d="M244.89 200.17L247.19 203.77H242.59Z" fill="#7a7a7a" fill-opacity="0.15" stroke="#7a7a7a" stroke-width="0.85" stroke-linejoin="round"/>
<path d="M248.48 198.58L250.78 202.18H246.18Z" fill="#7a7a7a" fill-opacity="0.15" stroke="#7a7a7a" stroke-width="0.85" stroke-linejoin="round"/>
<path d="M252.07 196.74L254.37 200.34H249.77Z" fill="#7a7a7a" fill-opacity="0.15" stroke="#7a7a7a" stroke-width="0.85" stroke-linejoin="round"/>
<path d="M255.65 194.59L257.95 198.19H253.35Z" fill="#7a7a7a" fill-opacity="0.15" stroke="#7a7a7a" stroke-width="0.85" stroke-linejoin="round"/>
<path d="M259.24 192.07L261.54 195.67H256.94Z" fill="#7a7a7a" fill-opacity="0.15" stroke="#7a7a7a" stroke-width="0.85" stroke-linejoin="round"/>
<path d="M262.82 189.11L265.12 192.71H260.52Z" fill="#7a7a7a" fill-opacity="0.15" stroke="#7a7a7a" stroke-width="0.85" stroke-linejoin="round"/>
<path d="M266.41 185.62L268.71 189.22H264.11Z" fill="#7a7a7a" fill-opacity="0.15" stroke="#7a7a7a" stroke-width="0.85" stroke-linejoin="round"/>
<path d="M269.99 181.49L272.29 185.09H267.69Z" fill="#7a7a7a" fill-opacity="0.15" stroke="#7a7a7a" stroke-width="0.85" stroke-linejoin="round"/>
<path d="M273.58 176.61L275.88 180.21H271.28Z" fill="#7a7a7a" fill-opacity="0.15" stroke="#7a7a7a" stroke-width="0.85" stroke-linejoin="round"/>
<path d="M277.17 170.82L279.47 174.42H274.87Z" fill="#7a7a7a" fill-opacity="0.15" stroke="#7a7a7a" stroke-width="0.85" stroke-linejoin="round"/>
<path d="M280.75 163.93L283.05 167.53H278.45Z" fill="#7a7a7a" fill-opacity="0.15" stroke="#7a7a7a" stroke-width="0.85" stroke-linejoin="round"/>
<path d="M284.34 155.73L286.64 159.33H282.04Z" fill="#7a7a7a" fill-opacity="0.15" stroke="#7a7a7a" stroke-width="0.85" stroke-linejoin="round"/>
<path d="M287.92 145.96L290.22 149.56H285.62Z" fill="#7a7a7a" fill-opacity="0.15" stroke="#7a7a7a" stroke-width="0.85" stroke-linejoin="round"/>
<path d="M291.51 134.30L293.81 137.90H289.21Z" fill="#7a7a7a" fill-opacity="0.15" stroke="#7a7a7a" stroke-width="0.85" stroke-linejoin="round"/>
<path d="M295.10 120.38L297.40 123.98H292.80Z" fill="#7a7a7a" fill-opacity="0.15" stroke="#7a7a7a" stroke-width="0.85" stroke-linejoin="round"/>
<path d="M298.68 103.75L300.98 107.35H296.38Z" fill="#7a7a7a" fill-opacity="0.15" stroke="#7a7a7a" stroke-width="0.85" stroke-linejoin="round"/>
<path d="M302.27 83.88L304.57 87.48H299.97Z" fill="#7a7a7a" fill-opacity="0.15" stroke="#7a7a7a" stroke-width="0.85" stroke-linejoin="round"/>
<path d="M305.85 60.10L308.15 63.70H303.55Z" fill="#7a7a7a" fill-opacity="0.15" stroke="#7a7a7a" stroke-width="0.85" stroke-linejoin="round"/>
<path d="M309.44 31.66L311.74 35.26H307.14Z" fill="#7a7a7a" fill-opacity="0.15" stroke="#7a7a7a" stroke-width="0.85" stroke-linejoin="round"/>
</g>
<rect x="40.5" y="13.5" width="355.0" height="231.0" fill="none" stroke="#000" stroke-width="0.9"/>
<path d="M40.5 244.5h3.6M395.5 244.5h-3.6M40.5 213.5h3.6M395.5 213.5h-3.6M40.5 182.5h3.6M395.5 182.5h-3.6M40.5 152.5h3.6M395.5 152.5h-3.6M40.5 121.5h3.6M395.5 121.5h-3.6M40.5 90.5h3.6M395.5 90.5h-3.6M40.5 59.5h3.6M395.5 59.5h-3.6M40.5 28.5h3.6M395.5 28.5h-3.6M40.5 244.5v-3.6M40.5 13.5v3.6M81.5 244.5v-1.7M81.5 13.5v1.7M105.5 244.5v-1.7M105.5 13.5v1.7M122.5 244.5v-1.7M122.5 13.5v1.7M135.5 244.5v-1.7M135.5 13.5v1.7M146.5 244.5v-1.7M146.5 13.5v1.7M155.5 244.5v-1.7M155.5 13.5v1.7M163.5 244.5v-1.7M163.5 13.5v1.7M170.5 244.5v-1.7M170.5 13.5v1.7M176.5 244.5v-3.6M176.5 13.5v3.6M218.5 244.5v-1.7M218.5 13.5v1.7M242.5 244.5v-1.7M242.5 13.5v1.7M259.5 244.5v-1.7M259.5 13.5v1.7M272.5 244.5v-1.7M272.5 13.5v1.7M283.5 244.5v-1.7M283.5 13.5v1.7M292.5 244.5v-1.7M292.5 13.5v1.7M300.5 244.5v-1.7M300.5 13.5v1.7M307.5 244.5v-1.7M307.5 13.5v1.7M313.5 244.5v-3.6M313.5 13.5v3.6M354.5 244.5v-1.7M354.5 13.5v1.7M378.5 244.5v-1.7M378.5 13.5v1.7M395.5 244.5v-1.7M395.5 13.5v1.7" stroke="#000" stroke-width="0.7" fill="none"/>
<path d="M53.7 22.70H83.6" stroke="#000000" stroke-width="0.85" fill="none"/>
<path d="M66.65 22.70H70.65M68.65 20.70V24.70" stroke="#000000" stroke-width="0.85" fill="none"/>
<path d="M53.7 33.60H83.6" stroke="#ff0000" stroke-width="0.85" fill="none"/>
<path d="M66.85 31.80L70.45 35.40M66.85 35.40L70.45 31.80" stroke="#ff0000" stroke-width="0.85" fill="none"/>
<path d="M53.7 44.50H83.6" stroke="#00ff00" stroke-width="0.85" fill="none"/>
<path d="M66.65 44.50H70.65M68.65 42.50V46.50M66.85 42.70L70.45 46.30M66.85 46.30L70.45 42.70" stroke="#00ff00" stroke-width="0.85" fill="none"/>
<path d="M53.7 55.40H83.6" stroke="#0000ff" stroke-width="0.85" fill="none"/>
<rect x="66.85" y="53.60" width="3.6" height="3.6" stroke="#0000ff" stroke-width="0.85" fill="none"/>
<path d="M53.7 66.30H83.6" stroke="#ff00ff" stroke-width="0.85" fill="none"/>
<rect x="66.75" y="64.40" width="3.8" height="3.8" fill="#ff00ff"/>
<path d="M53.7 77.20H83.6" stroke="#00ffff" stroke-width="0.85" fill="none"/>
<circle cx="68.65" cy="77.20" r="1.8" stroke="#00ffff" stroke-width="0.85" fill="none"/>
<path d="M53.7 88.10H83.6" stroke="#ffff00" stroke-width="0.85" fill="none"/>
<circle cx="68.65" cy="88.10" r="2.2" fill="#ffff00"/>
<path d="M53.7 99.00H83.6" stroke="#989898" stroke-width="0.85" fill="none"/>
<path d="M68.65 96.60L70.95 100.20H66.35Z" fill="#7a7a7a" fill-opacity="0.15" stroke="#7a7a7a" stroke-width="0.85" stroke-linejoin="round"/>
</svg>
<div class="t" style="left:33.8px;top:238.50px;transform:translateX(-100%);">-4</div><div class="t" style="left:33.8px;top:207.70px;transform:translateX(-100%);">0</div><div class="t" style="left:33.8px;top:176.90px;transform:translateX(-100%);">4</div><div class="t" style="left:33.8px;top:146.10px;transform:translateX(-100%);">8</div><div class="t" style="left:33.8px;top:115.30px;transform:translateX(-100%);">12</div><div class="t" style="left:33.8px;top:84.50px;transform:translateX(-100%);">16</div><div class="t" style="left:33.8px;top:53.70px;transform:translateX(-100%);">20</div><div class="t" style="left:33.8px;top:22.90px;transform:translateX(-100%);">24</div><div class="t" style="left:41.8px;top:249.80px;transform:translateX(-50%);">0.1</div><div class="t" style="left:178.23036716414276px;top:249.80px;transform:translateX(-50%);">1</div><div class="t" style="left:314.6607343282855px;top:249.80px;transform:translateX(-50%);">10</div><div class="t" style="left:90.0px;top:15.60px;">z<sub>1</sub>=0</div><div class="t" style="left:90.0px;top:26.50px;">z<sub>1</sub>=0.1</div><div class="t" style="left:90.0px;top:37.40px;">z<sub>1</sub>=0.15</div><div class="t" style="left:90.0px;top:48.30px;">z<sub>1</sub>=0.2</div><div class="t" style="left:90.0px;top:59.20px;">z<sub>1</sub>=0.5</div><div class="t" style="left:90.0px;top:70.10px;">z<sub>1</sub>=1</div><div class="t" style="left:90.0px;top:81.00px;">z<sub>1</sub>=2</div><div class="t" style="left:90.0px;top:91.90px;">z<sub>1</sub>=3</div><div class="t" style="left:218.4px;top:266.40px;transform:translateX(-50%);font-size:11px;--g:0.9px;--s:8.8px;--d:2.3px;">R<sub>2</sub> [h<sup>-1</sup>Mpc]</div><div class="t" id="yl" style="font-size:11px;--g:0px;--s:8.8px;--d:2.6px;left:12.8px;top:129.2px;transform:translate(-50%,-9.5px) rotate(-90deg);transform-origin:50% 9.5px;">log<sub>10</sub>(F(R<sub>2</sub>, z<sub>2</sub>|R<sub>1</sub>=R<sub>2</sub>/2, z<sub>1</sub>)), n=0</div>
</div>
</body></html>
